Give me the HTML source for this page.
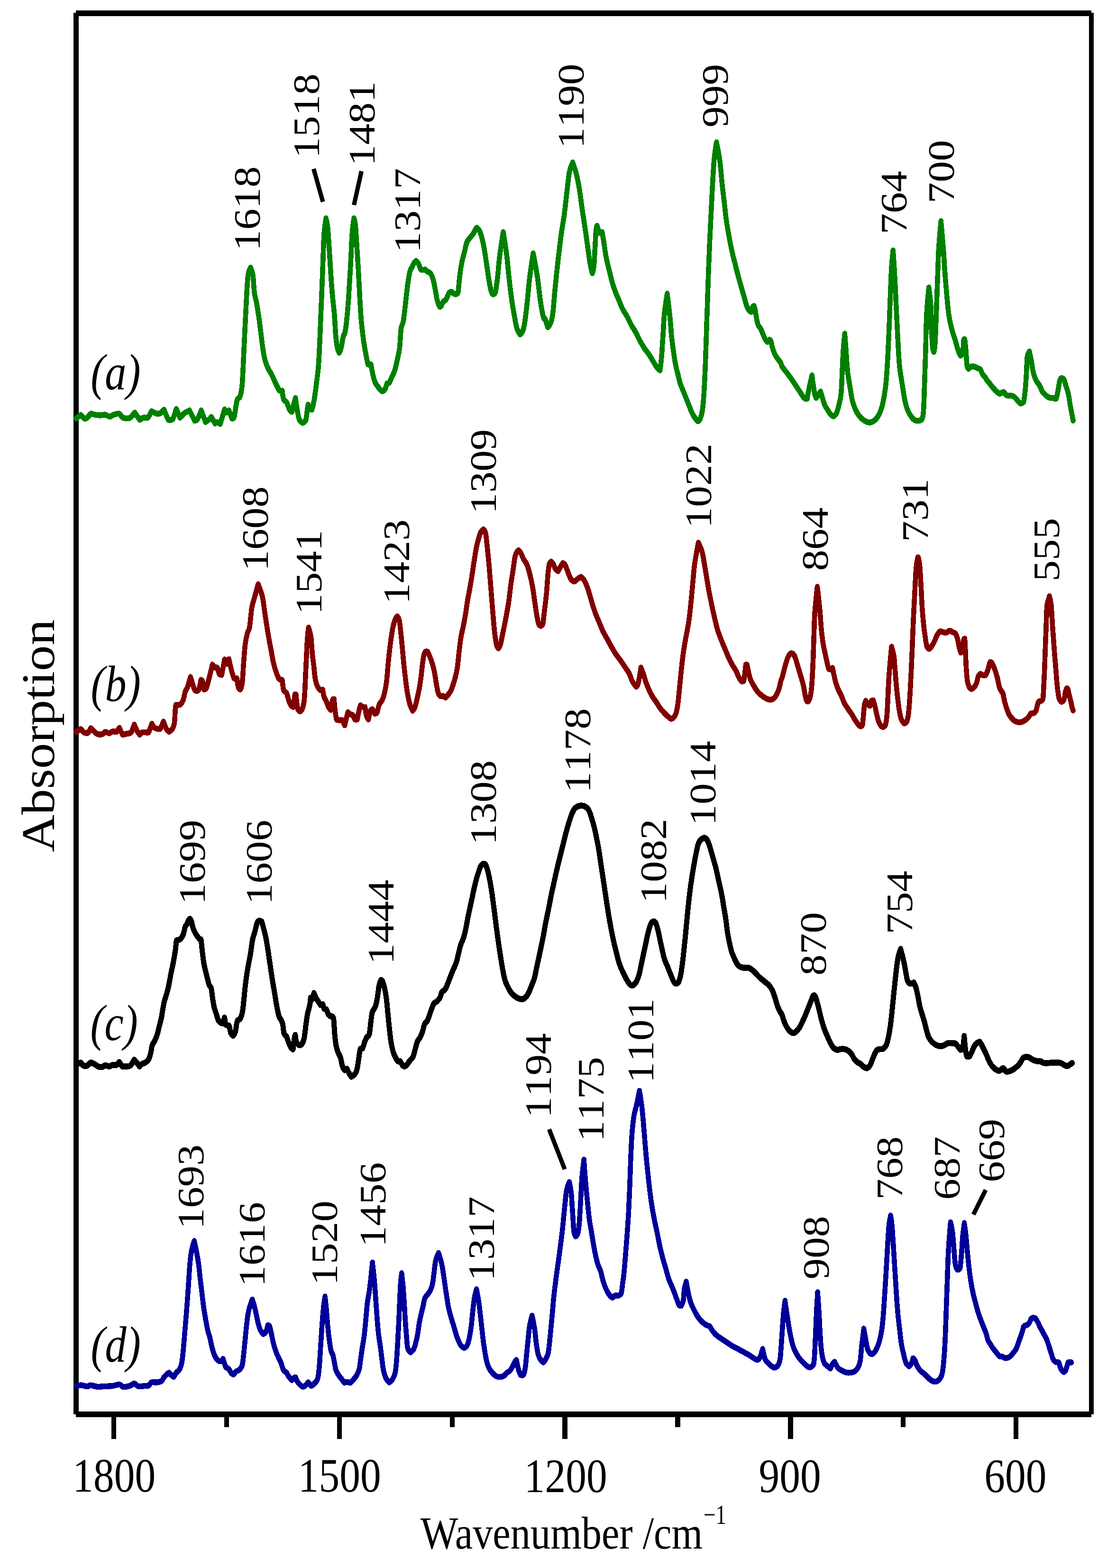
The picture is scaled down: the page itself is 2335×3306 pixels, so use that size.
<!DOCTYPE html>
<html lang="en"><head><meta charset="utf-8"><title>IR absorption spectra</title>
<style>html,body{margin:0;padding:0;background:#fff}body{width:2335px;height:3306px;overflow:hidden}svg{display:block}text{font-family:"Liberation Serif","Times New Roman",serif;fill:#000;font-kerning:none;text-rendering:geometricPrecision}.k{font-kerning:auto}.i{font-style:italic}.c{fill:none;stroke-linejoin:round;stroke-linecap:round}</style></head><body>
<svg width="2335" height="3306" viewBox="0 0 2335 3306">
<rect width="2335" height="3306" fill="#fff"/>
<g fill="#000" shape-rendering="crispEdges">
<rect x="155" y="27" width="11" height="2955"/>
<rect x="2297" y="27" width="10" height="2955"/>
<rect x="160" y="22" width="2142" height="12"/>
<rect x="160" y="2976" width="2142" height="12"/>
<rect x="234.9" y="2982" width="10.4" height="51.8"/>
<rect x="472.8" y="2982" width="10.4" height="26.8"/>
<rect x="710.6" y="2982" width="10.4" height="51.8"/>
<rect x="948.5" y="2982" width="10.4" height="26.8"/>
<rect x="1186.3" y="2982" width="10.4" height="51.8"/>
<rect x="1424.2" y="2982" width="10.4" height="26.8"/>
<rect x="1662.1" y="2982" width="10.4" height="51.8"/>
<rect x="1899.9" y="2982" width="10.4" height="26.8"/>
<rect x="2137.8" y="2982" width="10.4" height="51.8"/>
</g>
<g transform="scale(1 1.17)" shape-rendering="crispEdges">
<path class="c" d="M160.8 754.1C162.3 753.0 169.8 747.5 170.0 747.5C170.3 747.5 176.3 753.5 177.7 754.1C179.2 754.6 181.6 754.1 183.9 752.7C186.2 751.3 190.0 746.1 191.6 745.6C193.2 745.1 197.5 747.0 200.9 747.5C204.2 747.9 208.1 748.3 211.7 748.3C215.2 748.3 219.1 747.0 222.4 747.5C225.8 747.9 229.4 750.9 231.7 750.9C233.9 750.9 236.1 748.3 239.4 747.5C242.7 746.6 249.6 745.1 251.7 745.6C253.9 746.2 256.3 751.6 259.4 752.7C262.6 753.9 270.0 754.5 273.3 753.3C276.6 752.0 284.1 743.5 284.1 743.5C284.1 743.5 294.7 756.6 294.9 756.7C295.0 756.8 299.8 753.4 302.6 752.7C305.4 752.1 310.4 753.7 311.8 752.7C313.3 751.7 319.5 740.9 319.5 740.9C319.6 740.9 327.3 744.7 330.3 745.4C333.4 746.0 335.6 746.0 338.0 744.8C340.5 743.7 345.7 738.2 345.7 738.2C345.7 738.2 354.4 756.1 355.0 756.7C355.6 757.2 363.0 756.9 364.3 755.4C365.6 753.9 371.9 736.9 371.9 736.9C371.9 736.9 379.7 752.7 379.7 752.7C379.7 752.7 385.6 747.0 388.9 744.8C392.2 742.6 399.7 739.6 399.7 739.6C399.7 739.6 410.5 758.0 410.5 758.0C410.5 758.0 414.7 758.0 416.7 755.4C418.7 752.7 424.4 739.6 424.4 739.6C424.4 739.6 433.6 760.6 433.6 760.6C433.6 760.6 437.7 758.2 439.8 756.7C441.8 755.2 445.9 751.4 445.9 751.4C445.9 751.4 453.6 763.3 453.6 763.3C453.6 763.3 457.4 760.6 458.3 760.6C459.1 760.7 464.5 764.1 464.5 764.1C464.5 764.1 473.8 737.7 473.8 737.7C473.8 737.7 478.3 743.5 478.3 743.5C478.3 743.5 482.9 739.6 482.9 739.6C482.9 739.6 489.0 754.1 489.0 754.1C489.0 754.1 492.8 755.0 494.0 751.4C495.2 747.8 498.1 727.3 500.2 721.1C502.2 715.0 504.5 719.6 506.3 714.5C508.1 709.5 509.4 707.9 511.0 690.8C512.5 673.7 514.0 638.1 515.6 611.8C517.1 585.4 518.9 552.1 520.2 532.7C521.5 513.4 521.9 504.3 523.3 495.9C524.7 487.4 528.5 482.2 528.5 482.2C528.5 482.2 532.1 488.3 533.5 495.9C534.8 503.4 535.3 519.1 536.6 527.5C537.9 535.8 539.4 537.1 541.2 545.9C543.0 554.7 545.3 567.4 547.4 580.2C549.4 592.9 551.7 611.3 553.5 622.3C555.3 633.3 556.3 639.4 558.1 646.0C560.0 652.6 561.8 656.8 564.4 661.8C567.0 666.9 570.9 671.5 573.7 676.3C576.5 681.2 578.8 686.2 581.4 690.8C584.0 695.4 588.2 703.0 589.3 704.0C590.3 705.0 595.3 704.0 595.3 704.0C595.3 704.0 596.9 716.6 598.3 719.8C599.7 723.0 602.5 722.0 604.6 725.1C606.6 728.1 608.9 735.4 610.7 738.2C612.6 741.1 615.6 742.2 615.6 742.2C615.6 742.2 623.2 717.2 623.2 717.2C623.2 717.2 628.0 746.6 630.6 754.1C633.2 761.5 638.6 762.0 638.6 762.0C638.6 762.0 643.6 760.9 645.1 756.7C646.6 752.5 648.2 737.6 649.1 733.0C649.9 728.4 650.0 729.2 650.0 729.2C650.0 729.2 651.7 732.9 653.0 734.5C654.3 736.0 657.8 738.4 657.8 738.4C657.8 738.4 661.1 729.0 662.6 721.3C664.2 713.6 665.7 702.8 667.3 692.3C668.8 681.8 670.6 672.5 671.9 658.0C673.2 643.6 673.9 624.7 675.0 605.4C676.0 586.0 677.0 564.1 678.0 542.1C679.1 520.2 680.2 493.8 681.1 473.6C682.1 453.4 682.5 434.3 683.6 420.9C684.7 407.5 687.7 393.3 687.7 393.3C687.7 393.3 690.2 401.4 691.3 410.4C692.4 419.4 693.4 434.1 694.4 447.3C695.4 460.4 696.5 476.3 697.5 489.4C698.5 502.6 699.3 513.6 700.6 526.3C701.8 539.0 703.9 552.7 705.2 565.8C706.5 579.0 707.2 595.3 708.3 605.4C709.3 615.5 710.2 621.4 711.4 626.4C712.5 631.5 715.4 635.7 715.4 635.7C715.4 635.7 718.2 631.5 719.7 626.4C721.1 621.4 723.0 609.7 724.3 605.4C725.6 601.0 726.2 604.5 727.4 600.1C728.5 595.7 729.8 589.1 731.1 579.0C732.3 568.9 733.6 557.0 735.1 539.5C736.5 521.9 738.4 493.4 739.7 473.6C741.0 453.9 741.6 434.3 742.8 420.9C743.9 407.5 746.6 393.3 746.6 393.3C746.6 393.3 748.8 398.7 749.9 407.7C750.9 416.8 751.9 433.7 753.0 447.3C754.0 460.9 755.0 474.1 756.1 489.4C757.1 504.8 758.1 524.6 759.1 539.5C760.2 554.4 760.9 566.7 762.2 579.0C763.5 591.3 765.3 603.6 766.8 613.3C768.4 622.9 769.9 629.7 771.5 637.0C773.0 644.2 776.1 656.5 776.2 656.7C776.4 657.0 782.3 656.5 782.4 656.7C782.5 656.9 785.3 671.0 786.9 676.5C788.4 682.0 789.8 686.1 791.6 689.7C793.4 693.2 796.1 695.4 797.9 697.6C799.7 699.8 801.0 701.6 802.6 702.8C804.1 704.1 806.5 705.0 807.2 704.9C807.9 704.8 810.4 703.8 812.0 701.5C813.5 699.2 815.5 692.3 816.5 691.0C817.5 689.7 820.0 691.0 821.1 689.7C822.3 688.4 824.1 684.0 825.9 680.4C827.7 676.9 830.1 674.1 832.2 668.6C834.2 663.1 836.5 654.5 838.3 647.5C840.1 640.5 841.7 635.7 843.0 626.4C844.2 617.2 844.8 600.1 846.0 592.2C847.3 584.3 849.1 586.5 850.7 579.0C852.2 571.5 853.8 558.4 855.3 547.4C856.8 536.4 858.4 522.8 859.9 513.1C861.5 503.5 863.0 494.7 864.5 489.4C866.1 484.2 867.5 484.2 869.0 481.5C870.5 478.9 872.2 475.5 873.6 473.6C875.0 471.7 877.5 470.2 877.5 470.2C877.5 470.2 881.0 472.4 882.6 474.9C884.3 477.5 886.5 484.6 887.3 485.5C888.2 486.4 892.0 486.3 893.5 486.3C895.1 486.3 895.9 485.2 896.6 485.5C897.3 485.8 899.4 488.3 901.2 489.4C903.0 490.5 905.5 490.0 907.4 492.1C909.3 494.1 911.5 497.8 913.3 502.6C915.0 507.4 916.3 514.5 917.9 521.0C919.4 527.6 920.9 536.8 922.5 542.1C924.1 547.4 927.4 552.7 927.4 552.7C927.4 552.7 929.3 552.8 930.6 551.3C931.8 549.9 933.7 545.2 935.2 543.4C936.7 541.7 938.3 542.6 939.8 540.8C941.4 539.0 943.3 535.1 944.5 532.9C945.8 530.7 946.3 528.7 947.5 527.6C948.6 526.5 951.3 525.7 952.1 525.8C952.9 525.9 955.2 528.2 956.7 528.9C958.3 529.7 960.4 530.5 961.3 530.3C962.2 530.0 965.2 530.3 966.3 526.3C967.3 522.3 968.1 508.7 969.4 500.0C970.6 491.2 972.2 481.5 974.0 473.6C975.8 465.7 978.4 458.7 980.1 452.5C981.9 446.4 982.7 440.9 984.7 436.7C986.7 432.6 989.9 430.1 992.2 427.5C994.5 424.9 996.6 423.3 998.4 420.9C1000.2 418.5 1001.8 414.8 1003.0 413.0C1004.3 411.3 1006.0 410.4 1006.0 410.4C1006.0 410.4 1010.0 413.0 1012.0 417.0C1014.0 420.9 1016.3 427.7 1018.1 434.1C1019.9 440.5 1021.2 447.3 1022.7 455.2C1024.2 463.1 1025.8 472.7 1027.3 481.5C1028.9 490.3 1030.4 500.4 1031.9 507.9C1033.5 515.3 1035.2 522.6 1036.6 526.3C1037.9 530.0 1040.0 530.3 1040.0 530.3C1040.0 530.3 1043.5 530.7 1044.9 526.3C1046.2 522.0 1048.0 510.9 1049.5 500.0C1051.0 489.0 1052.1 474.1 1054.1 460.4C1056.1 446.8 1061.5 418.3 1061.5 418.3C1061.5 418.3 1066.9 446.8 1068.9 460.4C1070.9 474.1 1071.8 486.4 1073.6 500.0C1075.4 513.6 1077.7 529.8 1079.7 542.1C1081.8 554.4 1084.1 565.4 1085.9 573.7C1087.7 582.1 1088.7 587.3 1090.5 592.2C1092.4 597.0 1097.0 602.7 1097.0 602.7C1097.0 602.7 1101.6 599.6 1103.4 594.8C1105.3 590.0 1106.5 583.0 1108.1 573.7C1109.6 564.5 1111.2 551.8 1112.7 539.5C1114.2 527.2 1115.3 513.8 1117.3 500.0C1119.3 486.1 1124.7 456.5 1124.7 456.5C1124.7 456.5 1131.2 485.7 1133.7 500.0C1136.2 514.2 1137.8 530.3 1139.8 542.1C1141.9 554.0 1144.3 565.6 1146.0 571.1C1147.7 576.6 1148.2 572.2 1149.8 575.3C1151.4 578.4 1155.5 589.8 1155.5 589.8C1155.5 589.8 1159.3 586.9 1161.0 583.2C1162.7 579.4 1164.2 577.0 1165.7 567.4C1167.3 557.7 1168.8 538.8 1170.3 525.2C1171.9 511.6 1173.4 498.0 1175.0 485.7C1176.5 473.4 1178.0 462.4 1179.6 451.4C1181.1 440.5 1182.4 430.8 1184.2 419.8C1186.0 408.8 1188.3 398.7 1190.4 385.6C1192.4 372.4 1194.7 353.5 1196.5 340.8C1198.3 328.0 1199.3 317.2 1201.2 309.2C1203.1 301.2 1208.0 292.8 1208.0 292.8C1208.0 292.8 1213.6 306.4 1216.0 314.4C1218.3 322.4 1220.3 331.6 1222.1 340.8C1223.9 350.0 1225.2 360.5 1226.8 369.8C1228.3 379.0 1229.8 387.3 1231.4 396.1C1232.9 404.9 1234.5 413.2 1236.0 422.5C1237.6 431.7 1239.1 442.2 1240.6 451.4C1242.2 460.7 1243.8 471.0 1245.3 477.8C1246.7 484.6 1249.3 492.3 1249.3 492.3C1249.3 492.3 1251.7 488.1 1252.6 480.4C1253.6 472.7 1254.3 457.2 1255.1 446.2C1255.9 435.2 1256.5 421.1 1257.3 414.6C1258.0 408.0 1259.4 406.7 1259.4 406.7C1259.4 406.7 1261.3 412.4 1262.3 414.6C1263.3 416.8 1265.4 419.7 1265.6 419.8C1265.8 419.9 1270.1 418.5 1270.1 418.5C1270.1 418.5 1271.7 426.2 1273.0 433.0C1274.3 439.8 1276.1 451.9 1277.6 459.3C1279.2 466.8 1280.7 472.1 1282.3 477.8C1283.8 483.5 1285.3 488.3 1286.9 493.6C1288.4 498.9 1289.7 504.1 1291.5 509.4C1293.3 514.7 1295.4 519.9 1297.7 525.2C1300.0 530.5 1302.9 535.8 1305.5 541.0C1308.0 546.3 1310.4 552.0 1313.2 556.8C1316.1 561.7 1319.4 565.2 1322.5 570.0C1325.6 574.8 1328.7 581.0 1331.7 585.8C1334.8 590.6 1337.9 594.2 1341.0 599.0C1344.1 603.8 1347.2 610.0 1350.2 614.8C1353.3 619.6 1356.5 624.0 1359.5 628.0C1362.6 631.9 1365.7 634.6 1368.8 638.5C1371.9 642.5 1375.2 647.7 1378.0 651.7C1380.8 655.6 1383.4 659.6 1385.8 662.2C1388.1 664.9 1392.2 667.5 1392.2 667.5C1392.2 667.5 1394.3 654.3 1395.4 643.8C1396.4 633.2 1397.4 617.4 1398.5 604.3C1399.5 591.1 1400.0 577.2 1401.5 564.7C1403.0 552.2 1407.4 529.2 1407.4 529.2C1407.4 529.2 1411.8 560.1 1413.3 572.6C1414.8 585.2 1415.1 593.7 1416.3 604.3C1417.6 614.8 1419.4 626.7 1421.0 635.9C1422.5 645.1 1424.1 653.0 1425.6 659.6C1427.1 666.2 1428.7 670.1 1430.2 675.4C1431.8 680.7 1433.0 686.4 1434.8 691.2C1436.7 696.0 1439.0 700.0 1441.1 704.4C1443.1 708.8 1445.2 713.2 1447.2 717.5C1449.3 721.9 1451.3 726.3 1453.4 730.7C1455.5 735.1 1457.6 740.2 1459.6 743.9C1461.7 747.6 1463.8 750.6 1465.9 753.1C1468.0 755.7 1472.1 759.2 1472.1 759.2C1472.1 759.2 1475.4 757.9 1477.0 754.4C1478.6 751.0 1480.4 746.1 1481.7 738.6C1483.0 731.2 1483.7 723.3 1484.8 709.6C1485.8 696.0 1486.8 678.9 1487.8 656.9C1488.9 635.0 1489.9 604.3 1490.9 577.9C1492.0 551.6 1493.0 523.0 1494.0 498.9C1495.0 474.7 1496.1 452.8 1497.1 433.0C1498.1 413.2 1499.1 397.9 1500.2 380.3C1501.2 362.7 1502.2 343.0 1503.3 327.6C1504.3 312.2 1505.0 299.9 1506.3 288.1C1507.7 276.2 1511.3 256.5 1511.3 256.5C1511.3 256.5 1516.2 276.2 1518.1 288.1C1520.0 299.9 1521.2 315.3 1522.7 327.6C1524.2 339.9 1525.8 350.4 1527.3 361.9C1528.9 373.3 1530.1 385.1 1531.9 396.1C1533.7 407.1 1536.1 418.1 1538.1 427.7C1540.2 437.4 1542.2 446.2 1544.3 454.1C1546.3 462.0 1548.4 468.1 1550.4 475.2C1552.5 482.2 1554.5 489.6 1556.6 496.2C1558.7 502.8 1560.7 508.5 1562.8 514.7C1564.8 520.8 1566.9 527.0 1568.9 533.1C1571.0 539.3 1573.3 547.2 1575.1 551.6C1577.0 556.0 1578.4 557.7 1580.0 559.5C1581.6 561.2 1584.6 562.1 1584.6 562.1C1584.6 562.1 1587.1 554.2 1587.9 552.9C1588.7 551.5 1590.7 551.6 1590.7 551.6C1590.7 551.6 1592.6 557.7 1593.6 562.1C1594.6 566.5 1595.6 573.7 1596.7 577.9C1597.7 582.1 1598.6 584.7 1599.9 587.1C1601.2 589.5 1603.0 590.0 1604.6 592.4C1606.1 594.8 1607.6 598.5 1609.1 601.6C1610.7 604.7 1612.2 608.4 1613.8 610.8C1615.4 613.3 1618.6 616.1 1618.6 616.1C1618.6 616.1 1623.2 612.2 1623.2 612.2C1623.2 612.2 1625.1 612.6 1626.0 614.8C1627.0 617.0 1627.8 621.6 1629.0 625.3C1630.3 629.1 1631.9 633.7 1633.8 637.2C1635.6 640.7 1638.0 643.8 1640.1 646.4C1642.1 649.0 1644.6 650.6 1646.2 653.0C1647.8 655.4 1647.7 657.6 1649.9 660.7C1652.1 663.7 1656.1 667.7 1659.2 671.2C1662.3 674.7 1665.4 678.0 1668.4 681.8C1671.5 685.5 1674.6 689.7 1677.7 693.6C1680.7 697.6 1683.8 701.5 1686.9 705.5C1690.0 709.4 1693.9 715.4 1696.2 717.3C1698.6 719.3 1702.5 718.6 1702.5 718.6C1702.5 718.6 1704.1 709.9 1705.8 702.8C1707.5 695.8 1712.6 676.5 1712.6 676.5C1712.6 676.5 1716.6 701.3 1718.1 708.1C1719.6 714.9 1721.5 717.3 1721.5 717.3C1721.5 717.3 1724.1 714.0 1725.6 712.1C1727.1 710.1 1730.8 705.5 1730.8 705.5C1730.8 705.5 1733.1 712.1 1734.5 716.0C1735.9 720.0 1737.3 725.5 1739.2 729.2C1741.0 732.9 1743.4 735.6 1745.5 738.4C1747.6 741.3 1749.6 744.3 1751.7 746.3C1753.8 748.3 1757.5 750.3 1757.9 750.3C1758.2 750.2 1762.4 748.1 1764.2 745.0C1766.1 741.9 1767.4 737.5 1769.0 731.8C1770.6 726.1 1772.7 720.8 1774.0 710.7C1775.2 700.6 1775.7 684.4 1776.4 671.2C1777.2 658.0 1777.7 643.3 1778.6 631.7C1779.5 620.1 1781.9 601.4 1781.9 601.4C1781.9 601.4 1784.0 625.3 1785.0 637.0C1786.0 648.6 1786.7 661.1 1788.1 671.2C1789.4 681.3 1791.4 689.2 1793.0 697.6C1794.6 705.9 1795.9 714.7 1797.7 721.3C1799.5 727.9 1801.6 732.5 1803.9 737.1C1806.3 741.7 1808.9 745.7 1811.8 748.9C1814.6 752.2 1818.0 754.9 1821.1 756.8C1824.2 758.8 1827.5 760.1 1830.3 760.8C1833.2 761.5 1835.2 761.7 1838.0 760.8C1840.9 759.9 1844.4 758.2 1847.3 755.5C1850.2 752.9 1852.8 749.4 1855.2 745.0C1857.5 740.6 1859.3 737.1 1861.5 729.2C1863.6 721.3 1866.2 709.4 1867.9 697.6C1869.6 685.7 1870.5 673.4 1871.6 658.0C1872.7 642.7 1873.6 625.1 1874.7 605.4C1875.7 585.6 1876.8 559.2 1877.7 539.5C1878.7 519.7 1879.2 501.5 1880.2 486.8C1881.2 472.1 1883.7 451.2 1883.7 451.2C1883.7 451.2 1885.6 472.5 1886.7 489.4C1887.9 506.3 1889.3 533.3 1890.4 552.7C1891.6 572.0 1892.4 587.8 1893.5 605.4C1894.6 622.9 1895.5 642.7 1897.2 658.0C1899.0 673.4 1902.1 687.0 1904.0 697.6C1905.9 708.1 1906.8 714.3 1908.6 721.3C1910.4 728.3 1912.5 734.7 1914.9 739.7C1917.2 744.8 1920.1 748.6 1922.8 751.6C1925.4 754.6 1927.9 756.5 1930.5 757.6C1933.1 758.7 1935.9 758.5 1938.2 758.2C1940.6 757.8 1943.6 757.1 1944.5 755.5C1945.5 754.0 1946.9 752.0 1947.8 742.4C1948.7 732.7 1949.2 716.0 1949.9 697.6C1950.7 679.1 1951.6 653.7 1952.4 631.7C1953.2 609.7 1953.4 584.8 1954.6 565.8C1955.7 546.9 1959.2 517.9 1959.2 517.9C1959.2 517.9 1962.6 540.3 1963.5 552.7C1964.4 565.0 1964.1 579.9 1964.7 592.2C1965.4 604.5 1966.4 619.4 1967.2 626.4C1968.1 633.5 1969.8 634.3 1969.8 634.3C1969.8 634.3 1971.6 629.9 1972.4 618.5C1973.3 607.1 1974.0 585.6 1974.9 565.8C1975.8 546.1 1976.8 519.7 1977.7 500.0C1978.5 480.2 1979.0 464.2 1980.1 447.3C1981.3 430.4 1984.8 398.5 1984.8 398.5C1984.8 398.5 1988.4 432.6 1989.7 447.3C1991.0 462.0 1991.7 473.6 1992.8 486.8C1993.9 500.0 1995.1 513.1 1996.5 526.3C1997.9 539.5 1999.3 554.9 2001.1 565.8C2002.9 576.8 2005.0 584.3 2007.3 592.2C2009.6 600.1 2012.7 606.7 2015.0 613.3C2017.3 619.8 2019.3 627.1 2021.2 631.7C2023.0 636.3 2026.1 640.9 2026.1 640.9C2026.1 640.9 2029.9 638.9 2031.0 634.3C2032.1 629.7 2032.0 616.2 2032.5 613.3C2033.1 610.3 2035.0 611.1 2035.0 611.1C2035.0 611.1 2036.7 623.9 2037.5 631.7C2038.3 639.5 2038.7 652.6 2039.7 658.0C2040.6 663.5 2043.0 664.6 2043.0 664.6C2043.0 664.6 2047.1 661.3 2049.2 660.7C2051.3 660.0 2053.3 660.2 2055.4 660.7C2057.4 661.1 2059.5 662.5 2061.5 663.3C2063.6 664.1 2066.2 664.0 2067.7 665.4C2069.2 666.9 2070.4 671.4 2072.2 673.9C2074.0 676.4 2076.6 678.2 2078.4 680.4C2080.2 682.6 2082.0 685.8 2083.1 687.0C2084.1 688.3 2083.6 686.7 2085.0 688.0C2086.3 689.4 2089.1 693.1 2091.1 695.3C2093.2 697.5 2095.3 699.3 2097.3 701.2C2099.4 703.1 2101.6 705.0 2103.5 706.5C2105.4 707.9 2108.2 709.7 2108.9 709.8C2109.6 709.9 2111.5 708.3 2112.7 707.8C2114.0 707.2 2116.1 706.4 2116.6 706.5C2117.1 706.6 2118.5 708.1 2119.7 709.1C2120.8 710.1 2122.1 711.7 2123.5 712.4C2124.9 713.1 2126.5 712.9 2128.2 713.1C2129.8 713.2 2131.8 712.7 2133.6 713.1C2135.3 713.4 2137.3 714.0 2138.9 715.0C2140.6 716.0 2142.0 717.6 2143.6 719.0C2145.1 720.4 2146.8 722.3 2148.2 723.6C2149.6 724.9 2151.2 726.6 2152.0 726.9C2152.9 727.2 2154.7 726.8 2155.9 726.2C2157.1 725.7 2158.5 725.8 2159.3 723.6C2160.1 721.4 2161.0 714.8 2161.6 710.4C2162.2 706.0 2162.6 702.7 2163.1 697.3C2163.6 691.8 2164.2 684.1 2164.7 677.5C2165.1 670.9 2165.4 663.7 2165.8 657.7C2166.1 651.8 2166.1 646.0 2167.0 641.9C2167.9 637.9 2171.3 633.4 2171.3 633.4C2171.3 633.4 2174.5 646.0 2175.6 651.1C2176.7 656.3 2177.2 660.6 2177.9 664.3C2178.7 668.0 2179.4 670.7 2180.3 673.5C2181.2 676.4 2182.3 679.1 2183.4 681.4C2184.5 683.7 2185.3 685.5 2186.6 687.4C2187.9 689.2 2189.9 690.8 2191.3 692.6C2192.7 694.5 2193.9 696.5 2195.0 698.6C2196.2 700.7 2197.0 703.4 2198.2 705.2C2199.4 706.9 2200.7 707.8 2202.1 709.1C2203.6 710.4 2205.2 712.0 2206.8 713.1C2208.3 714.2 2209.8 715.0 2211.4 715.7C2212.9 716.4 2214.5 716.8 2216.0 717.0C2217.6 717.2 2219.2 716.8 2220.6 717.0C2222.0 717.2 2223.3 718.1 2224.5 718.3C2225.7 718.5 2227.5 718.6 2227.7 718.3C2227.8 718.1 2229.4 713.5 2230.2 710.4C2231.0 707.4 2231.7 703.6 2232.5 699.9C2233.3 696.2 2234.1 690.9 2234.8 688.0C2235.5 685.2 2236.2 683.8 2236.9 682.8C2237.6 681.7 2238.4 681.5 2239.1 681.4C2239.9 681.4 2241.3 681.5 2242.2 682.1C2243.2 682.7 2244.1 683.3 2245.1 685.4C2246.1 687.5 2247.1 691.8 2248.1 694.6C2249.1 697.5 2250.1 699.4 2251.2 702.5C2252.2 705.6 2253.3 709.1 2254.2 713.1C2255.1 717.0 2255.8 722.3 2256.6 726.2C2257.3 730.2 2258.1 733.3 2258.9 736.8C2259.6 740.3 2260.4 743.8 2261.2 747.3C2261.9 750.8 2263.1 756.1 2263.5 757.8" stroke="#008000" stroke-width="10.6"/>
<path class="c" d="M160.8 1318.8C162.3 1318.0 169.4 1313.5 170.0 1313.6C170.7 1313.6 175.3 1319.0 177.7 1320.1C180.2 1321.3 184.3 1321.3 185.5 1320.7C186.6 1320.0 191.6 1312.2 191.6 1312.2C191.6 1312.2 196.8 1317.0 199.3 1318.8C201.9 1320.7 204.2 1322.7 207.0 1323.3C209.9 1324.0 213.7 1323.5 216.3 1322.8C218.8 1322.0 221.0 1319.0 222.4 1318.8C223.9 1318.7 228.0 1321.6 230.1 1321.5C232.3 1321.4 235.3 1318.5 237.9 1318.0C240.4 1317.6 244.3 1319.4 245.6 1318.8C246.8 1318.2 251.7 1311.7 251.7 1311.7C251.7 1311.7 258.1 1323.8 258.5 1324.1C258.9 1324.4 264.2 1322.9 267.1 1322.3C270.1 1321.6 274.8 1321.9 276.4 1320.1C278.1 1318.4 283.2 1305.7 283.2 1305.7C283.2 1305.7 286.6 1313.1 288.6 1316.2C290.5 1319.3 294.9 1324.1 294.9 1324.1C294.9 1324.1 298.2 1320.2 301.0 1319.6C303.9 1319.0 312.6 1320.8 313.4 1320.1C314.1 1319.5 320.2 1304.3 320.2 1304.3C320.2 1304.3 324.7 1310.9 327.3 1312.2C329.8 1313.6 337.4 1314.0 338.0 1313.6C338.7 1313.1 344.8 1300.4 344.8 1300.4C344.8 1300.4 348.9 1310.5 350.9 1313.6C352.8 1316.6 356.5 1318.8 356.5 1318.8C356.6 1318.8 360.9 1316.8 362.8 1314.4C364.6 1311.9 366.5 1310.4 367.6 1304.3C368.8 1298.3 369.2 1283.7 369.8 1278.0C370.4 1272.3 371.3 1270.1 371.3 1270.1C371.4 1270.1 378.1 1270.9 379.7 1270.1C381.2 1269.2 384.2 1266.1 386.1 1262.2C387.9 1258.2 389.2 1250.3 390.7 1246.4C392.3 1242.4 393.5 1242.9 395.4 1238.5C397.2 1234.1 401.8 1220.0 401.8 1220.0C401.8 1220.0 408.4 1239.0 410.3 1242.4C412.2 1245.8 415.3 1245.1 415.7 1245.1C416.1 1245.0 418.7 1244.4 420.0 1241.1C421.4 1237.8 423.9 1225.3 423.9 1225.3C423.9 1225.3 426.1 1225.3 427.1 1227.9C428.1 1230.6 430.4 1242.4 430.4 1242.4C430.4 1242.4 434.0 1242.1 435.3 1239.8C436.6 1237.5 438.5 1230.3 440.1 1225.3C441.6 1220.2 443.4 1214.1 444.7 1209.5C446.0 1204.9 448.1 1197.6 448.1 1197.6C448.1 1197.6 452.3 1202.2 453.6 1202.9C455.0 1203.6 457.8 1202.4 458.2 1202.9C458.6 1203.4 461.9 1213.5 462.8 1214.8C463.7 1216.0 467.7 1216.1 467.7 1216.1C467.7 1216.1 469.9 1206.2 470.9 1201.6C471.9 1197.0 473.7 1188.4 473.7 1188.4C473.7 1188.4 478.3 1196.3 478.3 1196.3C478.3 1196.3 482.9 1187.9 482.9 1187.9C482.9 1187.9 484.7 1195.4 485.7 1199.0C486.7 1202.6 487.5 1205.5 488.8 1209.5C490.1 1213.4 493.2 1222.2 493.6 1222.7C494.1 1223.2 499.7 1222.6 499.7 1222.7C499.7 1222.7 501.5 1235.3 502.7 1238.5C503.8 1241.6 507.0 1242.4 507.0 1242.4C507.0 1242.4 509.8 1238.7 511.0 1230.6C512.1 1222.4 513.0 1205.1 514.0 1193.7C515.1 1182.3 515.8 1170.8 517.1 1162.1C518.4 1153.3 520.2 1146.3 521.8 1141.0C523.3 1135.7 524.8 1137.9 526.4 1130.4C527.9 1123.0 529.5 1104.5 531.0 1096.2C532.5 1087.9 533.4 1087.6 535.6 1080.4C537.9 1073.1 544.6 1052.7 544.6 1052.7C544.6 1052.7 551.3 1067.0 553.5 1075.1C555.8 1083.2 556.6 1092.7 558.1 1101.5C559.7 1110.3 561.2 1119.5 562.8 1127.8C564.3 1136.2 565.9 1144.1 567.4 1151.5C568.9 1159.0 570.5 1165.6 572.0 1172.6C573.6 1179.6 574.8 1187.1 576.6 1193.7C578.4 1200.3 580.7 1207.1 582.8 1212.1C584.9 1217.2 587.8 1222.5 589.2 1224.0C590.6 1225.5 594.8 1224.4 595.2 1225.3C595.6 1226.2 596.9 1240.3 598.2 1243.7C599.6 1247.2 602.7 1245.9 604.5 1249.0C606.3 1252.1 607.5 1258.5 609.0 1262.2C610.6 1265.9 612.2 1269.4 613.9 1271.4C615.5 1273.4 618.9 1274.0 618.9 1274.0C618.9 1274.0 621.9 1251.6 621.9 1251.6C621.9 1251.6 624.4 1251.6 624.4 1251.6C624.4 1251.6 626.2 1270.3 627.5 1275.4C628.8 1280.4 632.4 1281.9 632.4 1281.9C632.4 1281.9 635.8 1281.6 637.3 1278.0C638.9 1274.4 640.7 1271.4 642.0 1259.6C643.3 1247.7 644.0 1224.4 645.1 1206.9C646.1 1189.3 647.2 1166.8 648.1 1154.2C649.1 1141.5 650.9 1130.9 650.9 1130.9C650.9 1130.9 654.5 1139.7 655.9 1147.7C657.2 1155.8 657.9 1170.6 658.9 1179.4C660.0 1188.1 661.0 1193.0 662.0 1200.4C663.1 1207.9 663.8 1218.0 665.1 1224.1C666.4 1230.3 668.0 1234.0 669.9 1237.3C671.7 1240.6 675.5 1243.6 676.2 1243.9C676.9 1244.2 680.7 1242.6 680.7 1242.6C680.7 1242.6 682.3 1252.2 683.6 1255.8C684.9 1259.3 686.8 1260.6 688.3 1263.7C689.9 1266.7 691.4 1271.6 693.0 1274.2C694.6 1276.8 697.9 1279.5 697.9 1279.5C697.9 1279.5 700.2 1265.2 701.2 1262.3C702.1 1259.5 704.6 1259.7 704.6 1259.7C704.6 1259.7 705.8 1273.3 706.7 1279.5C707.6 1285.6 709.5 1295.8 709.9 1296.6C710.3 1297.4 714.2 1297.7 716.3 1297.9C718.4 1298.1 721.8 1297.3 722.4 1297.9C723.1 1298.5 727.1 1307.1 727.1 1307.1C727.1 1307.1 729.9 1296.6 731.1 1292.6C732.2 1288.7 733.8 1283.4 733.8 1283.4C733.8 1283.4 737.7 1286.5 739.4 1287.4C741.1 1288.3 742.7 1287.4 744.0 1288.7C745.2 1289.9 747.9 1296.0 748.6 1296.6C749.4 1297.2 753.4 1296.8 753.5 1296.6C753.6 1296.4 756.4 1283.7 757.6 1279.5C758.7 1275.2 760.4 1271.0 760.4 1271.0C760.4 1271.0 764.0 1273.7 765.6 1274.2C767.2 1274.7 770.0 1274.2 770.0 1274.2C770.0 1274.2 771.8 1286.3 773.0 1290.0C774.2 1293.7 777.1 1296.6 777.1 1296.6C777.1 1296.6 780.1 1283.2 781.2 1280.8C782.4 1278.3 785.6 1278.2 785.6 1278.2C785.6 1278.2 790.1 1285.9 790.3 1286.1C790.4 1286.2 794.3 1285.7 795.0 1284.7C795.7 1283.7 797.2 1277.1 798.3 1274.2C799.3 1271.3 799.9 1269.6 801.2 1267.6C802.4 1265.6 804.3 1265.2 805.8 1262.3C807.4 1259.5 809.0 1256.0 810.6 1250.5C812.2 1245.0 813.9 1237.8 815.2 1229.4C816.5 1221.1 817.3 1209.6 818.3 1200.4C819.3 1191.2 820.2 1182.9 821.4 1174.1C822.6 1165.3 824.1 1155.2 825.4 1147.7C826.7 1140.3 827.7 1134.6 829.1 1129.3C830.5 1124.0 832.1 1119.2 833.6 1116.1C835.1 1113.0 838.0 1110.8 838.0 1110.8C838.0 1110.8 841.1 1113.9 842.4 1118.8C843.6 1123.6 844.4 1131.9 845.4 1139.8C846.5 1147.7 847.5 1157.0 848.5 1166.2C849.6 1175.4 850.6 1186.4 851.6 1195.2C852.6 1203.9 853.7 1211.4 854.7 1218.9C855.7 1226.3 856.7 1233.8 857.8 1239.9C858.8 1246.1 859.6 1250.5 860.9 1255.8C862.1 1261.0 863.9 1267.4 865.5 1271.6C867.1 1275.7 870.4 1280.8 870.4 1280.8C870.4 1280.8 873.7 1277.9 875.3 1274.2C876.9 1270.5 878.4 1264.1 880.0 1258.4C881.5 1252.7 883.2 1246.5 884.6 1239.9C886.0 1233.4 887.1 1226.3 888.3 1218.9C889.4 1211.4 890.3 1201.7 891.4 1195.2C892.4 1188.6 893.3 1182.9 894.4 1179.4C895.6 1175.8 897.7 1174.4 898.2 1174.1C898.6 1173.8 901.3 1173.7 902.1 1174.6C902.9 1175.6 905.6 1181.2 907.2 1184.6C908.8 1188.0 910.2 1190.8 911.7 1195.2C913.2 1199.5 914.9 1204.8 916.3 1211.0C917.8 1217.1 919.1 1225.9 920.4 1232.0C921.6 1238.2 922.6 1244.1 924.1 1247.9C925.5 1251.6 927.9 1253.8 929.0 1254.4C930.1 1255.1 933.3 1254.0 935.1 1254.4C936.9 1254.9 939.5 1257.1 939.8 1257.1C940.0 1257.0 943.5 1253.8 945.4 1251.8C947.2 1249.8 949.0 1248.1 950.7 1245.2C952.4 1242.4 953.9 1238.6 955.5 1234.7C957.0 1230.7 958.6 1226.8 960.1 1221.5C961.6 1216.2 963.3 1211.0 964.7 1203.1C966.1 1195.2 967.1 1183.3 968.4 1174.1C969.7 1164.9 971.0 1155.2 972.4 1147.7C973.9 1140.3 975.5 1135.9 977.1 1129.3C978.6 1122.7 980.1 1116.1 981.7 1108.2C983.2 1100.3 984.8 1089.8 986.3 1081.9C987.8 1074.0 989.4 1068.3 990.9 1060.8C992.5 1053.3 994.0 1045.4 995.6 1037.1C997.1 1028.7 998.6 1019.1 1000.2 1010.7C1001.7 1002.4 1003.3 993.6 1004.8 987.0C1006.3 980.4 1007.9 975.8 1009.4 971.2C1010.9 966.6 1012.1 962.2 1013.9 959.4C1015.6 956.5 1019.9 954.1 1019.9 954.1C1019.9 954.1 1023.0 956.1 1024.2 960.7C1025.5 965.3 1026.1 972.5 1027.3 981.7C1028.5 991.0 1030.0 1003.7 1031.3 1016.0C1032.6 1028.3 1033.8 1042.3 1035.0 1055.5C1036.3 1068.7 1037.6 1083.2 1038.7 1095.0C1039.9 1106.9 1040.8 1117.4 1041.8 1126.7C1042.8 1135.9 1043.9 1144.2 1044.9 1150.4C1045.9 1156.5 1046.9 1160.6 1048.0 1163.5C1049.1 1166.5 1051.4 1168.3 1051.4 1168.3C1051.4 1168.3 1054.2 1165.2 1055.7 1160.9C1057.2 1156.6 1058.5 1149.9 1060.3 1142.5C1062.1 1135.0 1064.4 1125.3 1066.5 1116.1C1068.5 1106.9 1070.8 1097.2 1072.6 1087.1C1074.4 1077.0 1075.7 1065.2 1077.2 1055.5C1078.8 1045.9 1080.3 1038.0 1081.9 1029.2C1083.4 1020.4 1085.1 1008.5 1086.5 1002.8C1087.9 997.1 1089.1 996.8 1090.3 994.9C1091.5 993.1 1093.9 991.8 1093.9 991.8C1093.9 991.8 1096.6 993.5 1098.4 996.2C1100.2 999.0 1102.5 1004.8 1104.6 1008.1C1106.6 1011.4 1108.6 1012.0 1110.7 1016.0C1112.7 1020.0 1114.7 1025.2 1116.7 1031.8C1118.8 1038.4 1121.1 1047.2 1122.9 1055.5C1124.7 1063.9 1126.0 1073.1 1127.5 1081.9C1129.0 1090.6 1130.7 1101.2 1132.1 1108.2C1133.6 1115.2 1134.7 1120.7 1136.2 1124.0C1137.6 1127.3 1140.8 1128.0 1140.8 1128.0C1140.8 1128.0 1143.9 1127.8 1145.1 1124.0C1146.2 1120.2 1146.9 1112.2 1148.1 1102.9C1149.4 1093.7 1151.5 1080.1 1152.8 1068.7C1154.1 1057.3 1154.8 1043.2 1155.8 1034.4C1156.9 1025.7 1157.8 1019.7 1158.9 1016.0C1160.1 1012.3 1162.9 1012.0 1162.9 1012.0C1162.9 1012.0 1165.4 1013.8 1166.8 1016.0C1168.3 1018.2 1169.8 1023.0 1171.5 1025.2C1173.2 1027.4 1177.1 1029.2 1177.1 1029.2C1177.1 1029.2 1180.8 1023.7 1182.5 1021.3C1184.1 1018.9 1187.0 1014.7 1187.0 1014.7C1187.0 1014.7 1190.0 1015.3 1191.5 1017.3C1193.0 1019.3 1194.5 1023.2 1196.0 1026.5C1197.5 1029.8 1199.1 1034.0 1200.7 1037.1C1202.2 1040.1 1203.6 1043.1 1205.5 1045.0C1207.3 1046.8 1210.9 1048.2 1211.7 1048.1C1212.4 1048.1 1215.5 1045.1 1217.8 1043.7C1220.1 1042.3 1224.9 1039.7 1225.5 1039.7C1226.1 1039.8 1229.6 1042.3 1231.6 1045.0C1233.6 1047.6 1235.6 1051.1 1237.6 1055.5C1239.6 1059.9 1241.7 1065.6 1243.7 1071.3C1245.8 1077.0 1247.8 1084.1 1249.9 1089.8C1251.9 1095.5 1253.8 1100.3 1256.1 1105.6C1258.4 1110.8 1261.3 1116.1 1263.8 1121.4C1266.4 1126.7 1268.8 1132.1 1271.6 1137.2C1274.4 1142.2 1277.8 1146.9 1280.9 1151.7C1284.0 1156.5 1287.1 1161.6 1290.1 1166.2C1293.2 1170.8 1296.3 1175.4 1299.4 1179.4C1302.5 1183.3 1305.6 1186.2 1308.7 1189.9C1311.8 1193.6 1314.9 1197.8 1317.9 1201.7C1321.0 1205.7 1324.6 1209.4 1327.1 1213.6C1329.7 1217.8 1331.4 1223.5 1333.2 1226.8C1335.1 1230.1 1336.6 1231.6 1338.0 1233.4C1339.4 1235.1 1341.7 1237.3 1341.7 1237.3C1341.7 1237.3 1344.3 1237.8 1346.0 1232.0C1347.8 1226.3 1352.0 1203.1 1352.0 1203.1C1352.0 1203.1 1356.0 1211.8 1357.8 1216.2C1359.5 1220.6 1360.6 1225.0 1362.4 1229.4C1364.2 1233.8 1366.3 1238.2 1368.7 1242.6C1371.0 1247.0 1373.9 1252.0 1376.5 1255.8C1379.1 1259.5 1381.6 1261.7 1384.2 1265.0C1386.8 1268.3 1389.3 1272.4 1391.9 1275.5C1394.5 1278.6 1397.1 1281.0 1399.7 1283.4C1402.3 1285.8 1404.8 1288.0 1407.4 1290.0C1410.0 1292.0 1413.9 1295.1 1415.1 1295.3C1416.3 1295.5 1419.4 1294.4 1421.3 1292.6C1423.1 1290.9 1424.7 1289.1 1426.2 1284.7C1427.7 1280.3 1429.0 1273.8 1430.2 1266.3C1431.4 1258.8 1432.3 1248.7 1433.3 1239.9C1434.3 1231.2 1435.2 1222.8 1436.4 1213.6C1437.5 1204.4 1438.7 1193.8 1440.1 1184.6C1441.5 1175.4 1443.0 1166.6 1444.7 1158.3C1446.3 1149.9 1448.4 1142.0 1449.9 1134.6C1451.5 1127.1 1452.6 1122.3 1453.9 1113.5C1455.3 1104.7 1456.7 1092.8 1457.9 1081.9C1459.2 1070.9 1460.4 1058.6 1461.6 1047.6C1462.9 1036.6 1463.4 1027.6 1465.3 1016.0C1467.3 1004.4 1473.1 977.8 1473.1 977.8C1473.1 977.8 1479.0 988.6 1481.1 994.9C1483.2 1001.3 1484.2 1008.5 1485.7 1016.0C1487.2 1023.5 1488.8 1031.8 1490.3 1039.7C1491.9 1047.6 1493.2 1055.1 1495.0 1063.4C1496.8 1071.8 1499.1 1081.4 1501.1 1089.8C1503.2 1098.1 1505.2 1106.0 1507.3 1113.5C1509.3 1120.9 1511.1 1128.0 1513.4 1134.6C1515.8 1141.1 1518.6 1147.3 1521.2 1153.0C1523.8 1158.7 1526.4 1163.5 1529.0 1168.8C1531.5 1174.1 1534.1 1179.8 1536.7 1184.6C1539.3 1189.4 1541.9 1193.8 1544.5 1197.8C1547.0 1201.7 1549.8 1204.6 1552.1 1208.3C1554.5 1212.1 1556.2 1216.9 1558.3 1220.2C1560.4 1223.5 1564.2 1227.8 1564.6 1228.1C1565.1 1228.4 1568.5 1227.7 1568.9 1226.8C1569.3 1225.9 1570.4 1218.4 1571.1 1213.6C1571.8 1208.8 1573.2 1197.8 1573.2 1197.8C1573.2 1197.8 1575.7 1197.7 1575.8 1197.8C1575.9 1197.9 1577.6 1206.6 1578.8 1211.0C1580.0 1215.4 1581.1 1220.2 1582.8 1224.1C1584.6 1228.1 1586.8 1231.2 1589.2 1234.7C1591.5 1238.2 1594.1 1242.1 1596.9 1245.2C1599.8 1248.3 1603.1 1250.9 1606.2 1253.1C1609.3 1255.3 1612.4 1257.1 1615.5 1258.4C1618.6 1259.7 1621.9 1261.0 1624.7 1261.0C1627.5 1261.0 1630.1 1260.1 1632.4 1258.4C1634.8 1256.6 1636.9 1253.6 1638.7 1250.5C1640.6 1247.4 1642.1 1243.9 1643.5 1239.9C1644.9 1236.0 1646.1 1230.2 1647.2 1226.8C1648.3 1223.4 1649.0 1223.3 1650.3 1219.5C1651.6 1215.6 1653.4 1208.5 1654.9 1203.6C1656.5 1198.8 1658.0 1194.2 1659.5 1190.5C1661.0 1186.7 1662.5 1183.4 1664.0 1181.2C1665.5 1179.1 1667.7 1177.5 1668.5 1177.3C1669.3 1177.1 1671.8 1177.5 1673.1 1178.6C1674.4 1179.8 1676.0 1181.9 1677.5 1185.2C1679.0 1188.5 1680.5 1194.0 1682.1 1198.4C1683.6 1202.8 1685.2 1207.2 1686.7 1211.5C1688.2 1215.9 1689.9 1220.3 1691.3 1224.7C1692.8 1229.1 1694.1 1233.1 1695.3 1237.9C1696.5 1242.7 1697.4 1249.5 1698.4 1253.7C1699.5 1257.9 1700.9 1261.7 1701.6 1262.9C1702.4 1264.1 1704.9 1264.2 1704.9 1264.2C1704.9 1264.2 1707.7 1260.7 1708.9 1256.3C1710.0 1251.9 1711.0 1246.7 1712.0 1237.9C1712.9 1229.1 1713.6 1218.1 1714.4 1203.6C1715.2 1189.2 1715.9 1167.6 1716.6 1150.9C1717.3 1134.3 1717.5 1119.1 1718.7 1103.5C1720.0 1087.9 1724.0 1057.4 1724.0 1057.4C1724.0 1057.4 1727.8 1085.7 1729.2 1098.3C1730.6 1110.8 1731.2 1122.4 1732.3 1132.5C1733.4 1142.6 1734.8 1151.8 1736.0 1158.9C1737.2 1165.9 1738.4 1169.4 1739.7 1174.7C1741.0 1179.9 1742.4 1185.4 1743.7 1190.5C1745.1 1195.5 1747.1 1203.7 1747.8 1205.0C1748.6 1206.3 1751.4 1206.4 1752.3 1206.3C1753.3 1206.1 1756.2 1203.6 1756.2 1203.6C1756.2 1203.6 1757.9 1212.0 1759.1 1216.8C1760.4 1221.6 1762.2 1228.2 1763.8 1232.6C1765.3 1237.0 1766.7 1239.6 1768.5 1243.2C1770.3 1246.7 1772.6 1249.7 1774.7 1253.7C1776.7 1257.7 1778.5 1262.9 1780.9 1266.9C1783.2 1270.8 1786.1 1274.1 1788.6 1277.4C1791.2 1280.7 1794.0 1283.6 1796.3 1286.6C1798.6 1289.7 1800.4 1293.0 1802.5 1295.9C1804.6 1298.7 1806.6 1301.6 1808.7 1303.8C1810.8 1306.0 1814.6 1309.0 1814.9 1309.0C1815.2 1309.1 1818.6 1308.6 1819.2 1306.4C1819.9 1304.2 1820.7 1294.1 1821.4 1288.0C1822.1 1281.8 1822.7 1273.7 1823.5 1269.5C1824.4 1265.3 1826.3 1262.9 1826.3 1262.9C1826.3 1262.9 1828.9 1268.0 1830.3 1269.5C1831.7 1271.0 1835.0 1272.1 1835.0 1272.1C1835.0 1272.1 1837.6 1263.7 1838.1 1262.9C1838.7 1262.1 1841.7 1262.1 1841.7 1262.1C1841.7 1262.1 1844.2 1267.8 1845.4 1272.1C1846.7 1276.4 1848.2 1283.3 1849.5 1288.0C1850.7 1292.6 1851.8 1296.5 1853.2 1299.8C1854.6 1303.1 1856.4 1306.0 1858.0 1307.7C1859.6 1309.5 1862.3 1310.4 1862.7 1310.3C1863.1 1310.3 1866.4 1309.3 1867.6 1306.4C1868.8 1303.5 1869.8 1298.9 1870.7 1290.6C1871.6 1282.2 1872.1 1268.6 1872.9 1256.3C1873.6 1244.0 1874.0 1232.0 1875.3 1216.8C1876.6 1201.7 1880.6 1165.4 1880.6 1165.4C1880.6 1165.4 1884.3 1176.2 1885.5 1182.6C1886.7 1188.9 1886.9 1195.7 1887.7 1203.6C1888.4 1211.5 1889.2 1221.2 1890.1 1230.0C1891.1 1238.8 1892.1 1248.0 1893.2 1256.3C1894.4 1264.7 1895.6 1273.5 1896.9 1280.0C1898.2 1286.6 1899.2 1291.9 1901.0 1295.9C1902.7 1299.8 1907.4 1303.8 1907.4 1303.8C1907.4 1303.8 1911.1 1303.2 1912.2 1301.1C1913.3 1299.1 1914.9 1295.4 1916.0 1288.0C1917.2 1280.5 1918.2 1268.2 1919.1 1256.3C1920.0 1244.5 1920.8 1230.0 1921.6 1216.8C1922.3 1203.6 1923.0 1192.7 1923.7 1177.3C1924.5 1161.9 1925.3 1142.2 1926.2 1124.6C1927.1 1107.0 1928.2 1088.6 1929.3 1071.9C1930.3 1055.2 1931.3 1035.5 1932.4 1024.5C1933.4 1013.5 1934.8 1008.9 1935.4 1006.0C1936.1 1003.1 1937.0 1004.7 1937.0 1004.7C1937.0 1004.7 1939.2 1011.1 1940.1 1019.2C1941.0 1027.3 1941.7 1041.2 1942.5 1053.5C1943.4 1065.8 1944.1 1081.1 1945.0 1093.0C1945.9 1104.8 1947.1 1115.8 1948.1 1124.6C1949.1 1133.4 1950.0 1139.1 1951.2 1145.7C1952.3 1152.3 1953.4 1160.2 1954.9 1164.1C1956.3 1168.1 1959.8 1169.4 1959.8 1169.4C1959.8 1169.4 1962.7 1167.6 1964.5 1165.4C1966.3 1163.2 1968.7 1159.7 1970.7 1156.2C1972.8 1152.7 1974.8 1147.4 1976.9 1144.4C1978.9 1141.3 1982.0 1138.2 1982.9 1137.8C1983.9 1137.4 1987.0 1138.7 1989.1 1139.1C1991.1 1139.5 1993.2 1140.8 1995.3 1140.4C1997.3 1140.0 2001.4 1136.6 2003.0 1136.5C2004.5 1136.3 2007.1 1138.2 2009.1 1139.1C2011.2 1140.0 2013.7 1140.0 2015.2 1141.7C2016.7 1143.4 2018.3 1146.8 2019.6 1150.9C2021.0 1155.1 2022.1 1162.6 2023.3 1166.8C2024.5 1170.9 2026.7 1176.0 2026.7 1176.0C2026.7 1176.0 2029.1 1170.5 2030.1 1166.8C2031.1 1163.0 2031.7 1156.2 2032.5 1153.6C2033.4 1150.9 2035.0 1150.9 2035.0 1150.9C2035.0 1150.9 2036.1 1168.5 2036.6 1177.3C2037.1 1186.1 2037.4 1195.3 2038.1 1203.6C2038.8 1212.0 2039.5 1221.6 2040.6 1227.4C2041.6 1233.1 2043.0 1235.5 2044.4 1237.9C2045.9 1240.3 2048.9 1241.8 2049.2 1241.8C2049.5 1241.8 2053.6 1239.9 2055.4 1237.9C2057.2 1235.9 2058.9 1233.1 2060.3 1230.0C2061.6 1226.9 2062.0 1222.1 2063.3 1219.5C2064.5 1216.8 2067.4 1214.2 2067.7 1214.2C2068.0 1214.1 2072.1 1216.4 2073.9 1216.8C2075.7 1217.3 2077.8 1217.2 2078.5 1216.8C2079.1 1216.4 2080.7 1213.9 2081.8 1211.5C2082.9 1209.2 2084.4 1205.3 2085.3 1202.8C2086.2 1200.2 2086.6 1197.8 2087.1 1196.2C2087.7 1194.5 2088.9 1192.9 2088.9 1192.9C2088.9 1192.9 2090.9 1193.2 2091.9 1194.2C2092.9 1195.2 2093.9 1197.0 2094.8 1198.8C2095.8 1200.7 2096.8 1203.0 2097.8 1205.4C2098.8 1207.8 2099.9 1210.5 2100.9 1213.3C2101.9 1216.2 2103.1 1219.5 2104.0 1222.5C2104.9 1225.6 2105.5 1228.9 2106.3 1231.8C2107.1 1234.6 2107.7 1237.5 2108.6 1239.7C2109.5 1241.9 2110.7 1243.2 2111.9 1244.9C2113.0 1246.7 2114.6 1247.8 2115.6 1250.2C2116.6 1252.6 2117.0 1256.4 2117.8 1259.4C2118.7 1262.5 2119.5 1265.8 2120.5 1268.6C2121.4 1271.5 2122.5 1273.9 2123.5 1276.6C2124.6 1279.2 2125.6 1282.1 2126.7 1284.5C2127.8 1286.8 2129.0 1288.6 2130.4 1290.4C2131.8 1292.1 2133.5 1293.6 2135.1 1295.0C2136.6 1296.4 2138.0 1298.0 2139.7 1298.9C2141.4 1299.9 2143.2 1300.5 2145.1 1300.9C2147.0 1301.4 2149.2 1301.7 2151.3 1301.6C2153.3 1301.5 2155.4 1301.0 2157.4 1300.3C2159.5 1299.5 2161.9 1298.0 2163.6 1297.0C2165.3 1296.0 2166.2 1295.5 2167.5 1294.3C2168.8 1293.1 2170.2 1291.2 2171.4 1289.7C2172.5 1288.3 2173.4 1286.4 2174.4 1285.8C2175.4 1285.2 2177.7 1285.3 2179.0 1285.1C2180.3 1284.9 2181.1 1285.2 2182.1 1284.5C2183.1 1283.7 2184.5 1282.5 2185.4 1280.5C2186.4 1278.5 2187.0 1275.0 2187.8 1272.6C2188.6 1270.2 2189.1 1267.5 2190.0 1266.0C2190.8 1264.5 2191.6 1263.9 2192.9 1263.4C2194.2 1262.8 2196.8 1263.3 2197.5 1262.7C2198.3 1262.2 2199.5 1261.5 2200.1 1258.1C2200.7 1254.7 2200.8 1248.2 2201.2 1242.3C2201.6 1236.4 2202.0 1230.2 2202.4 1222.5C2202.9 1214.9 2203.3 1205.0 2203.7 1196.2C2204.1 1187.4 2204.4 1178.6 2204.8 1169.8C2205.1 1161.1 2205.6 1152.3 2206.0 1143.5C2206.4 1134.7 2206.6 1125.9 2207.1 1117.1C2207.5 1108.4 2207.5 1097.9 2208.6 1090.8C2209.7 1083.7 2213.7 1074.3 2213.7 1074.3C2213.7 1074.3 2216.4 1084.8 2217.3 1090.8C2218.1 1096.8 2218.3 1104.0 2218.8 1110.6C2219.3 1117.1 2219.7 1122.6 2220.3 1130.3C2221.0 1138.0 2222.0 1149.0 2222.6 1156.7C2223.3 1164.4 2223.6 1169.8 2224.2 1176.4C2224.8 1183.0 2225.5 1189.6 2226.2 1196.2C2226.8 1202.8 2227.5 1209.8 2228.0 1216.0C2228.6 1222.1 2229.0 1228.0 2229.6 1233.1C2230.1 1238.1 2230.8 1242.3 2231.4 1246.3C2232.1 1250.2 2232.7 1254.2 2233.4 1256.8C2234.2 1259.4 2235.0 1260.7 2235.9 1262.1C2236.9 1263.4 2238.7 1264.6 2239.1 1264.7C2239.5 1264.8 2241.3 1264.3 2242.2 1263.4C2243.2 1262.5 2244.1 1261.4 2244.8 1259.4C2245.5 1257.4 2245.9 1253.9 2246.4 1251.5C2246.9 1249.1 2247.4 1246.6 2247.9 1244.9C2248.4 1243.3 2248.8 1242.4 2249.3 1241.6C2249.7 1240.9 2250.7 1240.3 2250.7 1240.3C2250.7 1240.3 2252.2 1240.9 2252.8 1242.3C2253.4 1243.7 2253.6 1246.5 2254.2 1248.9C2254.9 1251.3 2255.8 1254.2 2256.6 1256.8C2257.3 1259.4 2258.1 1261.8 2258.9 1264.7C2259.6 1267.5 2260.4 1271.3 2261.2 1273.9C2261.9 1276.6 2263.1 1279.4 2263.5 1280.5" stroke="#800000" stroke-width="10.6"/>
<path class="c" d="M160.8 1919.1C162.3 1918.3 169.4 1914.5 170.0 1914.6C170.7 1914.6 174.3 1919.6 176.2 1920.4C178.1 1921.2 181.5 1921.3 183.9 1920.4C186.4 1919.4 190.4 1914.8 191.6 1914.6C192.8 1914.4 196.8 1916.5 199.3 1917.7C201.9 1918.9 204.5 1920.8 207.0 1921.7C209.6 1922.6 212.2 1923.3 214.7 1923.0C217.3 1922.7 219.9 1920.1 222.4 1919.8C225.0 1919.6 227.6 1921.8 230.1 1921.7C232.7 1921.6 235.3 1919.5 237.9 1919.1C240.4 1918.6 243.5 1919.8 245.6 1919.1C247.6 1918.3 251.7 1913.8 251.7 1913.8C251.7 1913.8 256.5 1920.9 257.9 1921.7C259.3 1922.5 262.8 1921.9 265.6 1921.7C268.4 1921.5 272.5 1922.0 274.8 1920.4C277.2 1918.8 283.2 1909.8 283.2 1909.8C283.2 1909.8 286.7 1913.1 288.6 1915.1C290.4 1917.1 294.3 1921.7 294.3 1921.7C294.3 1921.7 297.3 1918.4 299.5 1917.2C301.7 1916.0 304.8 1916.0 307.2 1914.6C309.6 1913.1 312.1 1911.5 313.9 1908.5C315.8 1905.5 316.9 1900.8 318.1 1896.7C319.3 1892.5 319.7 1887.0 321.1 1883.5C322.5 1880.0 324.6 1878.7 326.3 1875.6C328.0 1872.5 329.7 1869.4 331.3 1865.0C332.9 1860.6 334.4 1854.5 336.0 1849.2C337.5 1844.0 339.3 1838.7 340.6 1833.4C341.9 1828.2 342.6 1822.4 343.7 1817.6C344.7 1812.8 345.5 1808.8 346.7 1804.4C348.0 1800.0 349.8 1796.1 351.4 1791.3C352.9 1786.4 354.5 1781.6 356.0 1775.5C357.5 1769.3 359.1 1761.0 360.6 1754.4C362.2 1747.8 363.7 1743.0 365.2 1735.9C366.8 1728.9 368.7 1719.0 369.9 1712.2C371.0 1705.4 371.9 1696.1 372.2 1695.1C372.6 1694.1 375.1 1694.4 376.6 1693.8C378.1 1693.2 379.7 1693.4 381.4 1691.7C383.1 1689.9 385.2 1686.8 386.8 1683.2C388.3 1679.6 389.4 1672.9 390.6 1670.1C391.8 1667.2 392.9 1667.9 393.9 1666.1C395.0 1664.4 396.0 1661.3 397.0 1659.5C398.1 1657.8 400.3 1655.6 400.3 1655.6C400.3 1655.6 402.4 1656.7 403.6 1659.5C404.7 1662.4 405.7 1668.8 407.3 1672.7C408.9 1676.7 411.1 1680.2 413.1 1683.2C415.2 1686.3 417.9 1689.4 419.7 1691.1C421.5 1692.9 423.2 1691.5 424.0 1693.8C424.7 1696.1 425.5 1705.6 426.4 1712.2C427.4 1718.8 428.5 1727.6 429.5 1733.3C430.5 1739.0 431.3 1741.6 432.6 1746.5C433.9 1751.3 435.8 1757.5 437.2 1762.3C438.7 1767.1 440.0 1772.4 441.4 1775.5C442.8 1778.5 444.5 1777.2 445.5 1780.7C446.6 1784.2 447.0 1790.8 448.0 1796.5C449.0 1802.2 450.4 1810.1 451.7 1815.0C453.0 1819.8 454.2 1821.6 455.7 1825.5C457.2 1829.5 459.1 1835.8 460.6 1838.7C462.2 1841.5 463.6 1841.8 465.0 1842.6C466.5 1843.5 469.1 1844.0 469.1 1844.0C469.1 1844.0 472.0 1837.7 472.8 1836.1C473.5 1834.4 473.5 1833.9 473.5 1833.9C473.5 1833.9 475.6 1845.8 476.1 1846.6C476.6 1847.4 480.1 1847.5 481.4 1847.9C482.6 1848.4 483.1 1847.6 483.7 1849.2C484.4 1850.9 485.3 1858.2 486.6 1861.1C487.9 1863.9 491.6 1866.4 491.6 1866.4C491.6 1866.4 495.0 1863.5 496.3 1859.8C497.5 1856.0 498.5 1847.5 499.3 1844.0C500.2 1840.4 500.4 1839.9 501.5 1838.7C502.6 1837.5 505.0 1838.1 506.4 1836.1C507.9 1834.0 509.8 1830.8 511.0 1825.5C512.3 1820.2 513.1 1812.3 514.1 1804.4C515.2 1796.5 516.1 1786.4 517.2 1778.1C518.3 1769.8 519.7 1761.4 520.9 1754.4C522.1 1747.4 523.3 1742.1 524.6 1735.9C525.9 1729.8 527.3 1724.5 528.6 1717.5C530.0 1710.5 531.1 1700.4 532.6 1693.8C534.2 1687.2 536.3 1683.0 537.9 1678.0C539.5 1672.9 540.8 1666.6 542.2 1663.5C543.5 1660.4 545.3 1659.8 546.1 1659.5C546.9 1659.3 551.3 1659.9 552.1 1660.8C552.8 1661.8 554.5 1668.1 555.9 1672.7C557.3 1677.3 559.0 1681.9 560.5 1688.5C562.1 1695.1 563.6 1703.9 565.2 1712.2C566.7 1720.6 568.2 1729.8 569.8 1738.6C571.3 1747.4 572.9 1756.6 574.4 1764.9C575.9 1773.3 577.5 1780.7 579.0 1788.6C580.6 1796.5 582.1 1805.3 583.6 1812.3C585.2 1819.4 586.7 1826.4 588.3 1830.8C589.9 1835.2 591.9 1836.1 593.3 1838.7C594.7 1841.3 595.6 1842.6 596.6 1846.6C597.6 1850.5 597.8 1858.9 599.1 1862.4C600.3 1865.9 602.6 1865.0 604.2 1867.7C605.8 1870.3 607.0 1874.9 608.6 1878.2C610.1 1881.5 611.9 1885.3 613.5 1887.4C615.0 1889.5 618.0 1890.9 618.0 1890.9C618.0 1890.9 620.3 1874.6 621.1 1870.3C621.9 1866.0 622.9 1865.0 622.9 1865.0C622.9 1865.0 624.1 1875.2 625.4 1878.2C626.7 1881.2 630.1 1883.2 630.9 1883.5C631.7 1883.8 634.3 1883.6 635.7 1882.2C637.0 1880.8 639.5 1879.1 641.1 1872.9C642.8 1866.8 644.2 1853.0 645.5 1845.3C646.7 1837.6 647.5 1832.3 648.8 1826.6C650.2 1820.9 652.4 1815.9 653.5 1811.2C654.5 1806.4 655.1 1798.0 655.1 1798.0C655.1 1798.0 658.8 1800.6 658.8 1800.6C658.8 1800.6 662.3 1789.6 662.3 1789.6C662.3 1789.6 665.0 1795.5 666.5 1798.0C668.0 1800.5 669.6 1802.4 671.2 1804.6C672.9 1806.8 675.8 1811.0 676.2 1811.2C676.6 1811.4 680.8 1809.9 680.8 1809.9C680.8 1809.9 683.0 1816.9 683.7 1817.8C684.4 1818.7 687.4 1818.0 688.4 1819.1C689.4 1820.1 690.8 1825.0 692.1 1827.0C693.4 1829.0 694.8 1830.2 696.2 1830.9C697.7 1831.7 700.1 1831.1 700.9 1831.7C701.6 1832.4 703.0 1832.2 703.9 1837.5C704.7 1842.9 705.2 1856.0 706.0 1863.9C706.9 1871.8 707.8 1879.2 709.1 1885.0C710.4 1890.7 712.4 1894.6 713.9 1898.1C715.4 1901.6 716.9 1902.1 718.4 1906.0C719.8 1910.0 720.9 1918.1 722.4 1921.8C723.8 1925.6 727.1 1928.4 727.1 1928.4C727.1 1928.4 731.7 1925.8 731.7 1925.8C731.7 1925.8 733.7 1930.0 735.3 1932.4C736.8 1934.8 740.9 1940.3 740.9 1940.3C740.9 1940.3 743.9 1939.0 745.6 1937.7C747.2 1936.3 749.4 1935.0 750.9 1932.4C752.3 1929.7 753.2 1926.7 754.3 1921.8C755.3 1917.0 756.4 1908.7 757.4 1903.4C758.3 1898.1 759.5 1891.1 760.0 1890.2C760.4 1889.4 764.1 1890.2 765.0 1888.9C765.9 1887.7 768.1 1880.3 769.5 1877.1C771.0 1873.8 772.1 1871.3 773.6 1869.1C775.2 1867.0 777.6 1868.1 778.9 1863.9C780.3 1859.7 781.0 1849.4 782.0 1842.8C783.0 1836.2 784.0 1828.3 785.1 1824.4C786.2 1820.4 787.3 1821.3 788.6 1819.1C789.9 1816.9 791.5 1815.1 792.8 1811.2C794.1 1807.2 795.5 1800.6 796.5 1795.4C797.5 1790.1 798.1 1784.0 799.0 1779.6C799.9 1775.2 801.0 1771.3 801.8 1769.0C802.7 1766.7 804.1 1765.9 804.1 1765.9C804.1 1765.9 806.2 1766.7 807.3 1769.0C808.4 1771.3 809.6 1774.7 810.8 1779.6C812.1 1784.4 813.7 1790.5 814.8 1798.0C816.0 1805.5 816.9 1815.6 817.9 1824.4C819.0 1833.1 819.9 1841.9 821.0 1850.7C822.1 1859.5 823.3 1869.6 824.7 1877.1C826.1 1884.5 827.7 1890.7 829.3 1895.5C830.9 1900.3 832.7 1903.2 834.4 1906.0C836.1 1908.9 838.5 1911.9 839.6 1912.6C840.6 1913.3 843.4 1912.0 844.2 1912.6C845.0 1913.2 847.2 1917.7 848.7 1919.2C850.3 1920.7 852.9 1921.9 853.5 1921.8C854.1 1921.8 857.2 1919.6 859.1 1917.9C860.9 1916.1 862.4 1913.5 864.4 1911.3C866.4 1909.1 869.1 1908.2 871.0 1904.7C873.0 1901.2 874.5 1894.8 876.0 1890.2C877.6 1885.6 878.6 1880.6 880.3 1877.1C882.0 1873.5 884.5 1872.2 886.3 1869.1C888.2 1866.1 889.9 1862.6 891.4 1858.6C893.0 1854.7 893.9 1848.7 895.6 1845.4C897.4 1842.1 899.9 1841.9 901.7 1838.9C903.6 1835.8 905.2 1830.7 906.8 1827.0C908.3 1823.3 909.7 1819.5 911.1 1816.5C912.6 1813.4 913.6 1810.5 915.2 1808.6C916.9 1806.6 919.2 1806.4 921.3 1804.6C923.4 1802.8 926.0 1800.9 927.9 1798.0C929.7 1795.2 930.6 1789.9 932.3 1787.5C934.1 1785.1 936.6 1785.7 938.4 1783.5C940.3 1781.3 942.0 1777.6 943.6 1774.3C945.2 1771.0 946.5 1767.7 948.3 1763.8C950.1 1759.8 952.0 1755.4 954.4 1750.6C956.7 1745.8 960.2 1740.0 962.3 1734.8C964.4 1729.5 965.4 1724.2 967.0 1719.0C968.5 1713.7 969.8 1708.0 971.6 1703.2C973.4 1698.3 976.0 1694.8 977.8 1690.0C979.6 1685.2 980.8 1680.3 982.4 1674.2C983.9 1668.0 985.5 1659.7 987.0 1653.1C988.5 1646.5 990.1 1640.8 991.6 1634.7C993.2 1628.5 994.7 1622.4 996.3 1616.2C997.8 1610.1 999.3 1603.5 1000.9 1597.8C1002.4 1592.1 1004.0 1586.6 1005.5 1582.0C1007.0 1577.4 1008.5 1573.6 1010.0 1570.1C1011.4 1566.6 1012.3 1563.2 1014.0 1560.9C1015.7 1558.6 1019.1 1556.6 1019.9 1556.4C1020.7 1556.2 1023.3 1556.8 1024.3 1558.3C1025.4 1559.7 1026.8 1563.1 1028.2 1567.5C1029.6 1571.9 1031.2 1577.8 1032.8 1584.6C1034.3 1591.4 1035.9 1599.5 1037.4 1608.3C1039.0 1617.1 1040.5 1627.2 1042.0 1637.3C1043.6 1647.4 1045.1 1658.8 1046.7 1668.9C1048.2 1679.0 1049.7 1688.7 1051.3 1697.9C1052.8 1707.1 1054.4 1715.9 1055.9 1724.2C1057.4 1732.6 1059.0 1740.9 1060.5 1748.0C1062.1 1755.0 1063.3 1761.1 1065.2 1766.4C1067.0 1771.7 1069.6 1775.8 1071.8 1779.6C1073.9 1783.3 1075.9 1786.2 1078.3 1788.8C1080.7 1791.4 1083.6 1793.6 1086.2 1795.4C1088.8 1797.1 1091.3 1798.5 1093.9 1799.3C1096.5 1800.2 1099.3 1800.9 1101.6 1800.6C1103.9 1800.4 1105.6 1799.8 1107.8 1798.0C1109.9 1796.3 1112.2 1793.6 1114.4 1790.1C1116.6 1786.6 1118.8 1781.5 1120.9 1776.9C1123.0 1772.3 1125.4 1767.9 1127.3 1762.4C1129.1 1757.0 1130.1 1751.2 1131.9 1744.0C1133.7 1736.8 1136.0 1727.7 1138.1 1719.5C1140.1 1711.3 1142.4 1702.4 1144.2 1694.7C1146.0 1687.0 1147.7 1678.7 1148.8 1673.4C1150.0 1668.0 1149.6 1668.7 1151.0 1662.7C1152.4 1656.7 1155.1 1646.1 1157.2 1637.4C1159.2 1628.7 1161.3 1618.9 1163.3 1610.5C1165.4 1602.1 1167.4 1594.7 1169.5 1586.8C1171.6 1578.9 1173.6 1570.5 1175.7 1563.1C1177.7 1555.6 1179.8 1549.0 1181.8 1542.0C1183.9 1535.0 1185.9 1527.9 1188.0 1520.9C1190.0 1513.9 1192.1 1506.4 1194.2 1499.8C1196.2 1493.2 1198.3 1486.9 1200.3 1481.4C1202.3 1475.9 1204.2 1470.9 1206.1 1466.9C1208.0 1463.0 1209.5 1460.0 1211.7 1457.7C1213.9 1455.4 1216.8 1453.9 1219.4 1452.9C1221.9 1452.0 1224.5 1451.8 1227.1 1451.9C1229.6 1452.0 1232.3 1452.3 1234.8 1453.7C1237.3 1455.1 1240.0 1457.0 1242.1 1460.3C1244.3 1463.6 1245.7 1468.2 1247.6 1473.5C1249.6 1478.8 1252.0 1485.8 1253.8 1491.9C1255.6 1498.1 1256.9 1503.8 1258.4 1510.4C1260.0 1517.0 1261.5 1523.5 1263.1 1531.5C1264.6 1539.4 1266.1 1549.0 1267.7 1557.8C1269.2 1566.6 1270.8 1575.4 1272.3 1584.1C1273.8 1592.9 1275.4 1601.7 1276.9 1610.5C1278.5 1619.3 1280.0 1628.5 1281.6 1636.8C1283.1 1645.2 1284.6 1653.1 1286.2 1660.6C1287.7 1668.0 1289.3 1675.0 1290.8 1681.6C1292.3 1688.2 1293.9 1694.4 1295.4 1700.1C1297.0 1705.8 1298.5 1710.6 1300.0 1715.9C1301.6 1721.2 1303.1 1727.1 1304.7 1731.7C1306.2 1736.3 1307.6 1739.6 1309.5 1743.5C1311.4 1747.5 1313.8 1751.7 1315.9 1755.4C1318.0 1759.1 1320.1 1762.9 1322.3 1765.9C1324.4 1769.0 1326.9 1772.2 1328.7 1773.8C1330.6 1775.5 1332.3 1776.0 1333.4 1776.0C1334.5 1776.0 1336.4 1775.3 1338.1 1773.8C1339.7 1772.4 1341.6 1770.3 1343.3 1767.3C1345.0 1764.2 1346.7 1760.5 1348.3 1755.4C1349.9 1750.4 1351.4 1743.1 1352.9 1737.0C1354.5 1730.8 1356.0 1724.7 1357.5 1718.5C1359.1 1712.4 1360.6 1706.2 1362.2 1700.1C1363.7 1693.9 1365.3 1686.9 1366.8 1681.6C1368.3 1676.4 1369.8 1671.8 1371.2 1668.5C1372.5 1665.2 1373.9 1662.9 1375.0 1661.9C1376.2 1660.8 1379.0 1660.4 1379.7 1660.6C1380.3 1660.8 1382.4 1661.9 1383.8 1664.5C1385.2 1667.1 1386.4 1671.3 1387.9 1676.4C1389.4 1681.4 1391.0 1688.7 1392.5 1694.8C1394.1 1701.0 1395.6 1707.5 1397.2 1713.2C1398.7 1719.0 1399.9 1724.2 1401.8 1729.1C1403.6 1733.9 1406.1 1737.8 1408.2 1742.2C1410.3 1746.6 1412.2 1751.0 1414.4 1755.4C1416.5 1759.8 1418.9 1765.7 1420.8 1768.6C1422.8 1771.4 1425.3 1772.5 1425.9 1772.5C1426.5 1772.6 1429.7 1772.2 1431.1 1769.9C1432.5 1767.6 1434.5 1762.6 1436.1 1755.4C1437.8 1748.2 1439.2 1737.4 1440.8 1726.4C1442.3 1715.4 1443.8 1702.7 1445.4 1689.5C1446.9 1676.4 1448.5 1660.6 1450.0 1647.4C1451.6 1634.2 1453.1 1621.5 1454.6 1610.5C1456.2 1599.5 1457.7 1590.3 1459.3 1581.5C1460.8 1572.7 1462.3 1565.3 1463.9 1557.8C1465.4 1550.3 1467.0 1542.9 1468.5 1536.7C1470.0 1530.6 1471.3 1524.9 1472.9 1520.9C1474.6 1517.0 1476.1 1514.9 1478.3 1513.0C1480.5 1511.2 1485.0 1509.7 1486.0 1509.8C1487.0 1509.9 1490.0 1511.6 1491.9 1514.3C1493.8 1517.1 1495.5 1521.1 1497.4 1526.2C1499.3 1531.2 1501.5 1538.5 1503.5 1544.6C1505.5 1550.8 1507.6 1556.0 1509.7 1563.1C1511.7 1570.1 1513.8 1578.9 1515.8 1586.8C1517.9 1594.7 1520.2 1602.6 1522.0 1610.5C1523.8 1618.4 1525.1 1626.3 1526.6 1634.2C1528.2 1642.1 1530.0 1650.5 1531.2 1657.9C1532.5 1665.4 1533.0 1672.0 1534.3 1679.0C1535.6 1686.0 1537.4 1693.9 1539.0 1700.1C1540.5 1706.2 1541.7 1711.1 1543.6 1715.9C1545.4 1720.7 1547.9 1725.1 1550.1 1729.1C1552.3 1733.0 1554.6 1737.3 1556.8 1739.6C1558.9 1741.9 1560.7 1742.0 1563.1 1742.8C1565.4 1743.5 1568.0 1744.1 1570.8 1744.3C1573.6 1744.6 1577.2 1743.6 1580.0 1744.3C1582.9 1745.1 1585.2 1747.0 1587.7 1748.8C1590.3 1750.7 1592.9 1753.2 1595.4 1755.4C1598.0 1757.6 1600.3 1759.8 1603.1 1762.0C1606.0 1764.2 1609.3 1766.4 1612.4 1768.6C1615.5 1770.8 1618.8 1772.5 1621.6 1775.2C1624.3 1777.8 1626.7 1780.7 1628.9 1784.4C1631.1 1788.1 1632.9 1793.2 1634.6 1797.6C1636.3 1802.0 1637.5 1806.8 1639.1 1810.7C1640.7 1814.7 1642.5 1818.3 1644.2 1821.3C1645.9 1824.3 1647.8 1825.5 1649.4 1828.7C1651.0 1831.9 1652.2 1837.0 1653.8 1840.6C1655.4 1844.1 1656.9 1846.9 1658.8 1849.8C1660.8 1852.6 1663.0 1855.7 1665.4 1857.7C1667.8 1859.7 1671.6 1861.5 1673.1 1861.6C1674.6 1861.8 1677.2 1860.5 1679.3 1859.0C1681.4 1857.5 1683.6 1855.3 1685.8 1852.4C1687.9 1849.6 1690.1 1845.6 1692.2 1841.9C1694.3 1838.1 1696.4 1834.2 1698.5 1830.0C1700.6 1825.8 1702.6 1821.2 1704.7 1816.8C1706.8 1812.5 1709.2 1807.2 1710.8 1803.7C1712.4 1800.2 1713.4 1797.4 1714.4 1795.8C1715.5 1794.1 1717.2 1793.7 1717.2 1793.7C1717.2 1793.7 1719.1 1794.5 1720.3 1797.1C1721.5 1799.6 1723.1 1804.3 1724.5 1808.9C1726.0 1813.6 1727.6 1819.5 1729.1 1824.7C1730.7 1830.0 1732.2 1835.7 1733.8 1840.6C1735.3 1845.4 1736.6 1849.3 1738.5 1853.7C1740.3 1858.1 1742.7 1862.7 1744.9 1866.9C1747.0 1871.1 1749.1 1875.2 1751.2 1878.8C1753.4 1882.3 1755.4 1885.8 1757.8 1888.0C1760.2 1890.2 1763.1 1891.5 1765.6 1891.9C1768.1 1892.4 1770.7 1890.8 1773.3 1890.6C1775.9 1890.4 1778.4 1890.2 1781.0 1890.6C1783.6 1891.1 1786.2 1891.7 1788.7 1893.3C1791.3 1894.8 1794.0 1897.2 1796.3 1899.8C1798.5 1902.5 1800.3 1906.6 1802.4 1909.1C1804.5 1911.5 1806.7 1913.0 1808.8 1914.3C1810.8 1915.6 1812.9 1915.6 1814.9 1917.0C1817.0 1918.3 1818.8 1920.9 1821.1 1922.2C1823.4 1923.6 1827.6 1925.1 1828.8 1924.9C1830.0 1924.7 1833.4 1922.2 1835.3 1919.6C1837.2 1917.0 1838.8 1912.4 1840.3 1909.1C1841.9 1905.8 1843.0 1902.7 1844.6 1899.8C1846.3 1897.0 1848.7 1893.2 1850.4 1891.9C1852.0 1890.6 1854.5 1890.9 1856.5 1890.6C1858.6 1890.3 1860.9 1891.2 1862.7 1890.1C1864.5 1889.0 1867.7 1886.6 1869.6 1882.7C1871.6 1878.8 1873.0 1873.1 1874.5 1866.9C1876.0 1860.8 1877.2 1854.2 1878.5 1845.8C1879.8 1837.5 1881.0 1826.9 1882.2 1816.8C1883.4 1806.7 1884.6 1795.8 1885.9 1785.2C1887.2 1774.7 1888.6 1763.3 1889.9 1753.6C1891.2 1744.0 1892.3 1734.5 1893.9 1727.3C1895.5 1720.0 1899.7 1710.1 1899.7 1710.1C1899.7 1710.1 1904.6 1725.7 1906.4 1732.5C1908.2 1739.3 1909.1 1745.3 1910.4 1751.0C1911.7 1756.7 1912.7 1763.3 1914.1 1766.8C1915.5 1770.3 1917.7 1771.4 1918.8 1772.1C1919.9 1772.7 1922.3 1772.3 1923.7 1772.1C1925.2 1771.8 1927.4 1770.7 1927.4 1770.7C1927.4 1770.7 1929.8 1773.6 1931.1 1777.3C1932.5 1781.1 1934.2 1787.0 1935.7 1793.1C1937.2 1799.3 1938.8 1808.5 1940.3 1814.2C1941.8 1819.9 1943.4 1823.0 1944.9 1827.4C1946.5 1831.8 1948.0 1835.7 1949.6 1840.6C1951.1 1845.4 1952.6 1851.5 1954.2 1856.4C1955.8 1861.2 1957.2 1866.0 1959.2 1869.5C1961.1 1873.1 1963.5 1875.2 1965.9 1877.4C1968.3 1879.6 1970.8 1881.4 1973.7 1882.7C1976.5 1884.0 1980.1 1885.1 1982.9 1885.3C1985.7 1885.6 1988.1 1884.9 1990.6 1884.0C1993.2 1883.2 1995.8 1880.8 1998.3 1880.1C2000.9 1879.3 2003.2 1879.5 2006.0 1879.6C2008.9 1879.6 2012.9 1879.5 2015.3 1880.6C2017.6 1881.7 2019.5 1884.8 2021.3 1886.7C2023.1 1888.6 2026.1 1891.9 2026.1 1891.9C2026.1 1891.9 2029.7 1891.5 2030.8 1888.0C2031.9 1884.4 2033.8 1866.9 2033.8 1866.9C2033.8 1866.9 2035.8 1887.1 2036.8 1893.3C2037.8 1899.4 2039.4 1903.6 2039.5 1903.8C2039.7 1904.0 2043.7 1904.5 2044.6 1903.8C2045.5 1903.1 2048.2 1898.7 2049.8 1895.9C2051.4 1893.0 2052.5 1889.3 2054.2 1886.7C2055.9 1884.0 2058.0 1881.6 2060.0 1880.1C2062.0 1878.5 2065.9 1877.4 2066.2 1877.4C2066.4 1877.5 2069.0 1880.5 2070.4 1882.7C2071.9 1884.9 2073.1 1887.5 2074.9 1890.6C2076.7 1893.7 2079.4 1898.1 2081.0 1901.2C2082.5 1904.2 2083.0 1906.2 2084.4 1908.7C2085.8 1911.3 2087.6 1914.3 2089.2 1916.6C2090.9 1919.0 2092.3 1920.8 2094.2 1922.6C2096.0 1924.3 2098.3 1926.0 2100.4 1927.2C2102.5 1928.4 2105.2 1929.6 2106.6 1929.8C2108.0 1930.0 2109.3 1929.2 2110.4 1928.5C2111.6 1927.8 2112.5 1926.4 2113.5 1925.9C2114.5 1925.3 2116.1 1925.0 2116.6 1925.2C2117.1 1925.4 2118.6 1927.5 2119.6 1928.5C2120.6 1929.5 2121.9 1931.2 2122.8 1931.4C2123.6 1931.6 2126.2 1931.0 2128.2 1930.5C2130.1 1930.0 2132.3 1929.4 2134.3 1928.5C2136.4 1927.6 2138.4 1926.5 2140.5 1925.2C2142.5 1923.9 2144.8 1922.1 2146.7 1920.6C2148.5 1919.1 2150.0 1917.7 2151.5 1916.0C2153.0 1914.2 2154.1 1911.7 2155.4 1910.1C2156.6 1908.4 2157.4 1907.0 2159.0 1906.1C2160.6 1905.2 2163.1 1904.6 2165.1 1904.5C2167.2 1904.5 2169.3 1905.0 2171.3 1905.8C2173.4 1906.7 2175.4 1908.5 2177.5 1909.4C2179.5 1910.3 2181.6 1910.9 2183.6 1911.4C2185.7 1911.9 2188.0 1912.3 2189.8 1912.4C2191.6 1912.5 2192.9 1911.7 2194.4 1912.0C2196.0 1912.4 2197.5 1914.1 2199.1 1914.7C2200.6 1915.3 2200.9 1915.5 2203.7 1915.6C2206.5 1915.7 2212.2 1915.4 2216.0 1915.3C2219.9 1915.2 2223.2 1915.0 2226.8 1915.1C2230.4 1915.1 2234.8 1915.0 2237.6 1915.6C2240.4 1916.2 2241.7 1917.7 2243.8 1918.6C2245.8 1919.6 2248.3 1921.1 2249.9 1921.3C2251.6 1921.5 2253.1 1920.6 2254.5 1919.9C2256.0 1919.3 2257.2 1918.0 2258.4 1917.3C2259.6 1916.6 2261.0 1915.9 2261.5 1915.6" stroke="#000000" stroke-width="11"/>
<path class="c" d="M160.8 2497.1C162.6 2497.0 167.7 2496.1 171.6 2496.3C175.4 2496.5 180.6 2498.4 183.9 2498.4C187.2 2498.4 188.0 2496.2 191.6 2496.3C195.2 2496.4 200.6 2498.7 205.5 2499.0C210.4 2499.3 215.8 2498.4 220.9 2498.2C226.0 2498.0 231.2 2498.2 236.3 2497.6C241.5 2497.1 248.0 2494.8 251.7 2495.0C255.4 2495.2 255.8 2498.5 259.4 2499.0C263.0 2499.4 269.3 2498.7 273.3 2497.6C277.3 2496.6 281.6 2492.9 283.2 2492.9C284.7 2492.9 288.3 2497.4 291.8 2498.2C295.3 2499.0 300.5 2497.8 304.1 2497.6C307.7 2497.5 311.2 2498.1 313.4 2497.1C315.6 2496.2 317.1 2491.9 319.5 2491.1C322.0 2490.3 328.3 2491.5 331.9 2491.1C335.5 2490.6 338.9 2489.9 341.1 2488.4C343.3 2487.0 344.2 2483.8 346.0 2481.8C347.8 2479.9 350.2 2477.9 351.9 2476.6C353.7 2475.2 356.2 2473.9 356.5 2473.9C356.9 2474.0 359.5 2476.7 361.2 2477.9C362.8 2479.1 366.4 2481.3 366.4 2481.3C366.4 2481.3 369.6 2476.3 371.6 2473.9C373.7 2471.6 377.0 2470.4 379.0 2467.3C380.9 2464.3 382.2 2461.0 383.4 2455.5C384.7 2450.0 385.5 2443.2 386.5 2434.4C387.5 2425.6 388.6 2413.3 389.6 2402.8C390.6 2392.3 391.7 2381.7 392.7 2371.2C393.7 2360.6 394.7 2350.1 395.6 2339.6C396.5 2329.0 397.2 2318.5 398.1 2307.9C398.9 2297.4 399.7 2285.1 400.7 2276.3C401.6 2267.5 402.3 2261.9 403.8 2255.3C405.2 2248.6 409.6 2236.3 409.6 2236.3C409.6 2236.3 413.5 2250.8 415.0 2257.9C416.6 2265.0 417.9 2271.5 419.1 2279.0C420.2 2286.4 421.0 2294.3 422.1 2302.7C423.3 2311.0 424.6 2320.2 425.8 2329.0C427.1 2337.8 428.2 2347.5 429.5 2355.4C430.8 2363.3 432.1 2369.4 433.5 2376.4C435.0 2383.5 436.6 2391.8 438.2 2397.5C439.7 2403.2 441.4 2405.9 442.8 2410.7C444.2 2415.5 445.2 2421.2 446.8 2426.5C448.4 2431.8 450.2 2438.1 452.4 2442.3C454.6 2446.5 457.7 2449.9 459.8 2451.5C461.9 2453.1 464.9 2453.1 466.0 2452.9C467.1 2452.6 470.6 2448.9 470.6 2448.9C470.6 2448.9 471.3 2451.8 472.3 2454.2C473.2 2456.6 474.5 2461.2 476.2 2463.4C477.9 2465.5 480.9 2465.6 482.8 2467.3C484.7 2469.1 485.8 2472.3 487.4 2473.9C489.1 2475.6 492.7 2477.1 492.8 2477.1C492.9 2477.1 496.4 2472.7 498.3 2471.3C500.3 2469.9 502.6 2470.4 504.6 2468.7C506.7 2466.9 509.2 2465.1 510.7 2460.8C512.3 2456.4 512.8 2449.8 513.8 2442.3C514.8 2434.9 515.9 2424.8 516.9 2416.0C517.9 2407.2 518.9 2397.5 520.0 2389.6C521.0 2381.7 521.8 2374.7 523.1 2368.5C524.3 2362.4 526.1 2357.2 527.6 2352.7C529.1 2348.3 532.2 2341.7 532.2 2341.7C532.2 2341.7 534.0 2346.1 535.3 2350.1C536.5 2354.1 538.4 2360.2 539.9 2365.9C541.4 2371.6 542.9 2379.1 544.5 2384.4C546.1 2389.6 547.7 2394.2 549.5 2397.5C551.3 2400.8 555.4 2404.1 555.4 2404.1C555.4 2404.1 559.2 2402.8 560.8 2400.2C562.4 2397.5 564.9 2388.3 564.9 2388.3C564.9 2388.3 567.9 2388.3 568.6 2389.6C569.3 2391.0 570.9 2397.5 572.3 2402.8C573.6 2408.1 575.3 2416.0 576.9 2421.2C578.4 2426.5 579.9 2430.5 581.5 2434.4C583.1 2438.4 584.8 2441.4 586.7 2445.0C588.6 2448.5 590.8 2451.5 592.6 2455.5C594.5 2459.4 595.8 2465.6 597.7 2468.7C599.7 2471.7 602.6 2472.0 604.5 2473.9C606.3 2475.9 607.1 2478.3 609.0 2480.5C610.8 2482.7 615.5 2487.1 615.5 2487.1C615.5 2487.1 618.8 2484.0 620.1 2483.2C621.4 2482.3 623.2 2481.8 623.2 2481.8C623.2 2481.8 625.5 2487.3 627.3 2489.7C629.1 2492.2 631.8 2494.8 634.0 2496.3C636.1 2497.9 639.0 2499.0 640.1 2499.0C641.2 2499.0 643.1 2497.6 644.8 2496.3C646.4 2495.0 650.0 2491.1 650.0 2491.1C650.0 2491.1 656.1 2497.6 656.2 2497.6C656.2 2497.7 660.2 2495.9 662.5 2493.7C664.9 2491.5 668.2 2490.0 670.1 2484.5C672.0 2479.0 672.7 2470.0 673.7 2460.8C674.7 2451.5 675.3 2440.1 676.1 2429.1C677.0 2418.2 677.8 2406.3 678.7 2394.9C679.7 2383.5 680.7 2370.4 681.8 2360.6C682.9 2350.9 685.5 2336.4 685.5 2336.4C685.5 2336.4 687.6 2351.3 688.6 2360.6C689.6 2369.9 690.4 2382.6 691.6 2392.3C692.7 2401.9 694.1 2411.6 695.3 2418.6C696.4 2425.6 697.2 2430.5 698.3 2434.4C699.5 2438.4 701.2 2438.8 702.3 2442.3C703.5 2445.8 704.4 2451.1 705.4 2455.5C706.5 2459.9 707.1 2464.9 708.5 2468.7C710.0 2472.4 712.2 2475.2 714.1 2477.9C716.0 2480.5 717.9 2482.1 720.0 2484.5C722.0 2486.8 725.8 2491.5 726.4 2491.8C727.1 2492.2 729.6 2490.3 731.7 2490.3C733.7 2490.3 737.4 2492.3 738.8 2491.8C740.2 2491.4 743.5 2488.1 745.8 2485.8C748.1 2483.5 750.6 2481.2 752.6 2477.9C754.7 2474.6 756.6 2471.1 758.0 2466.0C759.3 2461.0 760.0 2453.7 761.0 2447.6C762.1 2441.4 762.9 2435.7 764.1 2429.1C765.3 2422.6 766.8 2416.8 768.1 2408.1C769.4 2399.3 770.7 2386.5 771.8 2376.4C773.0 2366.3 773.8 2355.4 774.9 2347.5C776.0 2339.6 777.5 2335.6 778.6 2329.0C779.7 2322.4 780.5 2316.9 781.7 2307.9C782.9 2298.9 785.6 2275.0 785.6 2275.0C785.6 2275.0 788.6 2298.1 789.7 2307.9C790.8 2317.8 791.3 2325.5 792.0 2334.3C792.8 2343.1 793.5 2351.9 794.2 2360.6C794.9 2369.4 795.7 2379.1 796.5 2387.0C797.3 2394.9 798.0 2401.9 799.0 2408.1C799.9 2414.2 800.9 2417.7 801.9 2423.9C802.9 2430.0 803.9 2437.5 805.0 2445.0C806.1 2452.4 807.2 2462.3 808.7 2468.7C810.2 2475.0 811.7 2479.4 813.8 2483.2C815.8 2486.9 821.1 2491.1 821.1 2491.1C821.1 2491.1 825.9 2488.6 827.9 2485.8C830.0 2482.9 832.1 2479.4 833.5 2473.9C834.9 2468.4 835.6 2461.6 836.4 2452.9C837.3 2444.1 838.0 2432.2 838.7 2421.2C839.5 2410.3 840.2 2398.8 840.9 2387.0C841.6 2375.1 842.2 2362.4 842.8 2350.1C843.5 2337.8 844.1 2322.4 844.9 2313.2C845.6 2304.0 847.3 2294.8 847.3 2294.8C847.3 2294.8 847.1 2292.9 847.5 2296.9C848.0 2300.8 849.4 2309.6 850.3 2318.5C851.2 2327.4 852.0 2339.6 852.8 2350.1C853.6 2360.6 854.3 2372.1 855.1 2381.7C855.8 2391.4 856.7 2400.2 857.5 2408.1C858.3 2416.0 858.5 2424.3 859.9 2429.1C861.2 2434.0 865.8 2437.0 865.8 2437.0C865.8 2437.0 870.3 2434.4 872.1 2431.8C873.9 2429.1 875.1 2426.1 876.6 2421.2C878.2 2416.4 880.0 2408.9 881.3 2402.8C882.5 2396.6 883.1 2390.5 884.3 2384.4C885.6 2378.2 887.6 2371.2 889.0 2365.9C890.3 2360.6 891.5 2357.1 892.7 2352.7C893.8 2348.3 894.6 2342.9 896.1 2339.6C897.6 2336.3 899.5 2335.6 901.6 2333.0C903.7 2330.3 906.8 2327.5 908.7 2323.8C910.6 2320.0 911.8 2316.3 913.0 2310.6C914.2 2304.9 915.1 2296.1 916.1 2289.5C917.1 2282.9 917.7 2276.3 919.2 2271.1C920.7 2265.8 925.0 2257.9 925.0 2257.9C925.0 2257.9 929.7 2270.2 931.4 2276.3C933.1 2282.5 934.0 2288.6 935.1 2294.8C936.2 2300.9 937.0 2306.6 938.2 2313.2C939.3 2319.8 940.6 2327.3 941.9 2334.3C943.1 2341.3 944.4 2349.2 945.9 2355.4C947.3 2361.5 949.0 2366.3 950.5 2371.2C952.0 2376.0 953.6 2380.0 955.1 2384.4C956.7 2388.7 958.2 2393.1 959.7 2397.5C961.3 2401.9 962.5 2406.3 964.5 2410.7C966.5 2415.1 969.2 2420.8 971.6 2423.9C974.1 2426.9 978.9 2429.1 979.2 2429.1C979.5 2429.1 983.8 2427.4 985.7 2423.9C987.6 2420.4 989.2 2414.2 990.7 2408.1C992.1 2401.9 993.3 2394.9 994.4 2387.0C995.5 2379.1 996.4 2368.5 997.5 2360.6C998.5 2352.7 999.3 2345.8 1000.6 2339.6C1001.8 2333.3 1005.1 2323.2 1005.1 2323.2C1005.1 2323.2 1008.4 2337.7 1009.7 2344.8C1011.0 2351.9 1011.7 2358.4 1012.8 2365.9C1013.8 2373.4 1014.8 2381.7 1015.8 2389.6C1016.9 2397.5 1017.9 2406.3 1018.9 2413.3C1020.0 2420.4 1021.0 2426.1 1022.0 2431.8C1023.0 2437.5 1023.9 2442.8 1025.1 2447.6C1026.3 2452.4 1027.5 2457.0 1029.1 2460.8C1030.7 2464.5 1032.7 2467.3 1034.8 2470.0C1036.8 2472.6 1039.3 2474.8 1041.5 2476.6C1043.6 2478.3 1045.3 2479.7 1047.7 2480.5C1050.0 2481.3 1052.8 2481.5 1055.4 2481.3C1057.9 2481.1 1060.8 2480.4 1063.1 2479.2C1065.4 2478.0 1067.1 2475.5 1069.2 2473.9C1071.3 2472.4 1073.4 2472.2 1075.6 2470.0C1077.8 2467.8 1080.4 2463.6 1082.3 2460.8C1084.1 2457.9 1085.4 2454.5 1086.6 2452.9C1087.8 2451.2 1089.3 2450.7 1089.3 2450.7C1089.3 2450.7 1090.0 2453.8 1090.8 2456.8C1091.5 2459.8 1092.6 2465.1 1093.8 2468.7C1095.1 2472.2 1097.6 2477.4 1098.2 2477.9C1098.8 2478.4 1103.5 2478.3 1103.8 2477.9C1104.1 2477.5 1106.6 2472.4 1107.8 2466.0C1109.0 2459.7 1109.9 2448.5 1110.9 2439.7C1111.9 2430.9 1113.0 2421.7 1114.0 2413.3C1115.0 2405.0 1115.7 2396.7 1117.1 2389.6C1118.5 2382.5 1122.3 2370.7 1122.3 2370.7C1122.3 2370.7 1126.3 2386.9 1127.7 2394.9C1129.2 2402.9 1129.6 2411.1 1130.8 2418.6C1132.0 2426.1 1133.3 2434.4 1134.8 2439.7C1136.4 2445.0 1138.2 2447.7 1140.1 2450.2C1142.0 2452.8 1146.3 2455.0 1146.3 2455.0C1146.3 2455.0 1149.4 2452.0 1151.0 2449.3C1152.7 2446.6 1154.8 2444.0 1156.2 2438.8C1157.6 2433.5 1158.3 2425.6 1159.3 2417.7C1160.3 2409.8 1161.4 2400.6 1162.4 2391.3C1163.4 2382.1 1164.4 2372.0 1165.5 2362.4C1166.5 2352.7 1167.3 2343.5 1168.6 2333.4C1169.8 2323.3 1171.6 2311.9 1173.2 2301.8C1174.7 2291.7 1176.3 2282.4 1177.8 2272.8C1179.3 2263.1 1181.0 2253.0 1182.4 2243.8C1183.8 2234.6 1185.0 2226.2 1186.1 2217.5C1187.3 2208.7 1188.2 2199.9 1189.2 2191.1C1190.2 2182.3 1191.3 2172.7 1192.3 2164.8C1193.3 2156.9 1193.9 2149.5 1195.4 2143.7C1196.8 2137.9 1200.9 2130.0 1200.9 2130.0C1200.9 2130.0 1203.8 2141.8 1204.8 2149.0C1205.8 2156.1 1206.2 2164.3 1206.8 2172.7C1207.5 2181.0 1208.2 2191.1 1208.8 2199.0C1209.5 2206.9 1209.8 2215.3 1210.7 2220.1C1211.6 2224.9 1214.1 2228.0 1214.1 2228.0C1214.1 2228.0 1217.6 2226.2 1218.8 2222.7C1220.0 2219.2 1220.8 2213.9 1221.6 2206.9C1222.4 2199.9 1223.0 2190.2 1223.7 2180.6C1224.4 2170.9 1225.0 2159.1 1225.7 2149.0C1226.4 2138.9 1226.7 2129.9 1227.7 2120.0C1228.7 2110.1 1231.7 2089.7 1231.7 2089.7C1231.7 2089.7 1233.2 2110.1 1234.2 2120.0C1235.1 2129.9 1236.2 2139.7 1237.2 2149.0C1238.3 2158.2 1239.3 2167.0 1240.3 2175.3C1241.3 2183.6 1242.0 2190.7 1243.4 2199.0C1244.8 2207.4 1247.1 2217.5 1248.6 2225.4C1250.1 2233.3 1251.3 2240.3 1252.6 2246.4C1253.9 2252.6 1254.9 2257.0 1256.3 2262.2C1257.7 2267.5 1259.1 2273.2 1260.9 2278.1C1262.7 2282.9 1265.3 2286.4 1267.1 2291.2C1268.9 2296.1 1269.8 2301.8 1271.7 2307.0C1273.6 2312.3 1276.0 2318.5 1278.3 2322.8C1280.5 2327.2 1283.0 2330.8 1285.2 2333.4C1287.5 2336.0 1291.4 2338.6 1291.8 2338.7C1292.2 2338.7 1295.9 2335.4 1298.0 2334.7C1300.0 2334.0 1302.1 2335.4 1304.1 2334.7C1306.2 2334.0 1309.3 2333.4 1310.4 2330.8C1311.5 2328.1 1312.4 2318.9 1313.4 2312.3C1314.5 2305.7 1315.5 2300.0 1316.5 2291.2C1317.5 2282.4 1318.6 2270.6 1319.6 2259.6C1320.6 2248.6 1321.7 2237.7 1322.7 2225.4C1323.7 2213.1 1324.8 2201.2 1325.8 2185.8C1326.7 2170.5 1327.8 2149.8 1328.5 2133.1C1329.3 2116.5 1329.8 2099.8 1330.5 2085.7C1331.2 2071.7 1331.8 2058.9 1332.6 2048.8C1333.3 2038.7 1334.1 2032.2 1335.0 2025.1C1335.9 2018.1 1336.9 2012.0 1338.1 2006.7C1339.3 2001.4 1340.3 2000.3 1342.1 1993.5C1343.9 1986.7 1348.8 1965.8 1348.8 1965.8C1348.8 1965.8 1352.1 1982.3 1353.4 1990.9C1354.7 1999.4 1355.4 2007.6 1356.5 2017.2C1357.5 2026.9 1358.5 2038.3 1359.6 2048.8C1360.6 2059.4 1361.4 2068.6 1362.6 2080.5C1363.9 2092.3 1365.7 2107.7 1367.3 2120.0C1368.8 2132.3 1370.3 2144.1 1371.9 2154.2C1373.4 2164.3 1375.0 2172.7 1376.5 2180.6C1378.1 2188.5 1379.6 2195.1 1381.1 2201.7C1382.7 2208.2 1384.0 2212.6 1385.8 2220.1C1387.6 2227.6 1389.9 2238.5 1391.9 2246.4C1394.0 2254.3 1396.0 2260.9 1398.1 2267.5C1400.1 2274.1 1402.2 2279.8 1404.3 2286.0C1406.3 2292.1 1408.3 2299.1 1410.4 2304.4C1412.5 2309.7 1414.9 2313.2 1417.0 2317.6C1419.1 2322.0 1421.3 2326.8 1423.1 2330.8C1424.8 2334.7 1425.9 2337.8 1427.5 2341.3C1429.0 2344.8 1431.3 2350.5 1432.3 2351.8C1433.4 2353.2 1437.0 2353.1 1437.0 2353.1C1437.0 2353.1 1440.2 2349.0 1441.2 2343.9C1442.3 2338.9 1442.5 2328.6 1443.5 2322.8C1444.6 2317.1 1447.5 2309.7 1447.5 2309.7C1447.5 2309.7 1450.5 2324.6 1452.0 2330.8C1453.6 2336.9 1454.8 2341.7 1456.7 2346.6C1458.6 2351.4 1461.2 2355.8 1463.4 2359.7C1465.6 2363.7 1467.8 2367.2 1470.0 2370.3C1472.2 2373.3 1474.2 2375.8 1476.6 2378.2C1479.0 2380.6 1481.9 2383.0 1484.5 2384.8C1487.1 2386.5 1490.1 2387.8 1492.2 2388.7C1494.2 2389.6 1495.1 2388.6 1496.8 2390.0C1498.4 2391.5 1500.6 2395.5 1502.7 2397.9C1504.7 2400.4 1506.8 2402.5 1509.1 2404.5C1511.5 2406.5 1514.0 2408.0 1516.8 2409.8C1519.7 2411.5 1523.0 2413.3 1526.1 2415.1C1529.2 2416.8 1532.2 2418.6 1535.3 2420.3C1538.4 2422.1 1541.5 2424.1 1544.6 2425.6C1547.7 2427.1 1550.7 2428.1 1553.8 2429.6C1556.9 2431.0 1560.0 2432.6 1563.1 2434.0C1566.2 2435.5 1569.2 2436.8 1572.3 2438.2C1575.4 2439.7 1578.5 2441.1 1581.6 2442.7C1584.6 2444.4 1588.2 2446.7 1590.8 2448.0C1593.4 2449.3 1596.0 2450.7 1597.0 2450.6C1597.9 2450.5 1600.6 2450.0 1602.6 2446.7C1604.5 2443.4 1608.7 2430.9 1608.7 2430.9C1608.7 2430.9 1612.0 2445.1 1613.9 2449.3C1615.7 2453.5 1617.8 2453.9 1619.9 2455.9C1621.9 2457.9 1623.9 2459.7 1626.3 2461.2C1628.6 2462.6 1632.5 2464.6 1634.0 2464.6C1635.4 2464.6 1638.8 2462.8 1640.4 2461.2C1642.1 2459.5 1643.0 2457.2 1643.9 2454.6C1644.8 2451.9 1645.3 2451.3 1646.1 2445.4C1646.8 2439.4 1647.7 2427.7 1648.4 2418.8C1649.1 2409.8 1649.8 2400.8 1650.5 2391.9C1651.2 2382.9 1651.9 2372.9 1652.8 2364.9C1653.7 2357.0 1656.0 2344.1 1656.0 2344.1C1656.0 2344.1 1656.3 2347.4 1657.0 2351.5C1657.7 2355.6 1659.0 2362.2 1660.1 2368.6C1661.2 2375.0 1662.4 2382.7 1663.8 2389.7C1665.2 2396.7 1666.9 2404.6 1668.4 2410.8C1670.0 2416.9 1671.1 2421.7 1673.1 2426.6C1675.0 2431.4 1677.5 2435.8 1680.0 2439.7C1682.6 2443.7 1685.6 2447.4 1688.3 2450.3C1691.0 2453.1 1693.6 2454.8 1696.2 2456.9C1698.8 2459.0 1701.6 2461.8 1703.9 2462.9C1706.3 2464.0 1708.6 2464.1 1710.1 2463.5C1711.7 2462.9 1715.1 2461.5 1716.2 2458.2C1717.3 2454.9 1717.7 2448.5 1718.3 2439.7C1719.0 2431.0 1719.5 2417.3 1720.2 2405.5C1720.8 2393.6 1721.3 2381.4 1722.0 2368.6C1722.7 2355.8 1724.6 2328.6 1724.6 2328.6C1724.6 2328.6 1727.0 2356.7 1727.8 2368.6C1728.6 2380.6 1729.0 2390.6 1729.7 2400.2C1730.3 2409.9 1730.9 2419.1 1731.8 2426.6C1732.6 2434.0 1733.5 2440.0 1734.7 2445.0C1735.9 2450.1 1737.3 2454.0 1739.1 2456.9C1740.9 2459.7 1743.5 2460.6 1745.6 2462.1C1747.7 2463.7 1751.7 2466.1 1751.7 2466.1C1751.7 2466.1 1755.4 2458.8 1756.8 2456.9C1758.3 2454.9 1760.4 2454.2 1760.4 2454.2C1760.4 2454.2 1762.1 2457.5 1763.5 2459.5C1764.9 2461.5 1766.5 2464.3 1768.7 2466.1C1770.8 2467.8 1773.6 2468.8 1776.4 2470.0C1779.2 2471.3 1782.6 2472.9 1785.6 2473.5C1788.7 2474.0 1792.1 2473.8 1794.9 2473.5C1797.7 2473.1 1800.1 2472.8 1802.6 2471.4C1805.1 2469.9 1807.7 2467.8 1809.7 2464.8C1811.6 2461.7 1813.1 2459.3 1814.4 2452.9C1815.7 2446.6 1816.2 2436.3 1817.4 2426.6C1818.7 2416.8 1822.0 2394.4 1822.0 2394.4C1822.0 2394.4 1825.2 2409.8 1826.6 2416.0C1828.0 2422.3 1828.6 2427.9 1830.3 2431.8C1831.9 2435.8 1835.4 2438.9 1836.5 2439.7C1837.6 2440.6 1839.7 2440.7 1841.1 2439.7C1842.5 2438.8 1846.0 2435.8 1848.3 2431.8C1850.6 2427.9 1853.2 2421.7 1855.1 2416.0C1857.0 2410.3 1858.4 2404.6 1859.7 2397.6C1861.0 2390.6 1861.7 2384.0 1862.8 2373.9C1863.8 2363.8 1864.8 2350.2 1865.8 2337.0C1866.9 2323.8 1867.9 2309.8 1868.9 2294.8C1870.0 2279.9 1871.0 2261.9 1872.0 2247.4C1873.0 2232.9 1874.1 2217.1 1875.1 2207.9C1876.1 2198.7 1877.6 2194.9 1878.2 2192.1C1878.7 2189.2 1878.5 2190.8 1878.5 2190.8C1878.5 2190.8 1880.2 2196.7 1881.1 2205.3C1882.1 2213.8 1883.2 2229.0 1884.2 2242.1C1885.2 2255.3 1886.3 2270.2 1887.3 2284.3C1888.3 2298.3 1889.4 2313.3 1890.4 2326.5C1891.4 2339.6 1892.3 2351.9 1893.5 2363.3C1894.6 2374.8 1896.2 2385.3 1897.5 2395.0C1898.8 2404.6 1899.8 2413.8 1901.2 2421.3C1902.6 2428.8 1904.2 2434.0 1905.8 2439.7C1907.4 2445.5 1908.8 2451.8 1910.8 2455.6C1912.7 2459.3 1917.6 2462.1 1917.6 2462.1C1917.6 2462.1 1921.3 2459.3 1922.7 2456.9C1924.1 2454.5 1925.9 2447.6 1925.9 2447.6C1925.9 2447.6 1928.6 2449.4 1930.0 2451.6C1931.4 2453.8 1932.5 2457.7 1934.3 2460.8C1936.2 2463.9 1938.7 2467.6 1941.1 2470.0C1943.6 2472.5 1946.4 2473.3 1949.0 2475.3C1951.6 2477.3 1954.2 2479.8 1956.7 2481.9C1959.3 2484.0 1961.9 2486.4 1964.4 2487.7C1967.0 2489.0 1969.5 2489.9 1972.1 2489.8C1974.7 2489.7 1977.6 2489.2 1980.0 2487.2C1982.3 2485.1 1985.2 2482.3 1987.0 2476.6C1988.8 2470.9 1989.6 2463.5 1990.7 2452.9C1991.8 2442.4 1992.8 2428.8 1993.6 2413.4C1994.5 2398.0 1995.2 2378.3 1995.9 2360.7C1996.7 2343.1 1997.3 2325.6 1998.1 2308.0C1998.8 2290.4 1999.3 2272.9 2000.4 2255.3C2001.6 2237.7 2005.0 2202.6 2005.0 2202.6C2005.0 2202.6 2008.0 2213.2 2009.2 2221.1C2010.4 2229.0 2011.1 2240.4 2012.1 2250.0C2013.2 2259.7 2013.9 2272.7 2015.2 2279.0C2016.5 2285.4 2019.9 2288.2 2019.9 2288.2C2019.9 2288.2 2024.2 2288.0 2025.2 2284.3C2026.2 2280.6 2027.3 2267.6 2028.2 2257.9C2029.1 2248.3 2029.8 2235.0 2030.8 2226.3C2031.7 2217.6 2033.3 2209.4 2033.8 2205.8C2034.4 2202.2 2034.0 2204.7 2034.0 2204.7C2034.0 2204.7 2035.8 2213.5 2036.8 2221.1C2037.8 2228.6 2038.8 2239.9 2039.9 2250.0C2041.0 2260.1 2042.3 2272.0 2043.6 2281.7C2044.9 2291.3 2046.2 2300.1 2047.6 2308.0C2049.0 2315.9 2050.4 2322.1 2052.2 2329.1C2054.0 2336.1 2056.3 2343.6 2058.4 2350.2C2060.4 2356.8 2062.2 2362.5 2064.6 2368.6C2066.9 2374.8 2070.0 2381.3 2072.6 2387.0C2075.2 2392.8 2078.2 2398.3 2080.1 2402.9C2081.9 2407.4 2082.1 2411.2 2083.5 2414.4C2085.0 2417.6 2087.2 2419.9 2089.0 2422.3C2090.7 2424.7 2092.1 2426.8 2093.9 2428.9C2095.6 2431.0 2097.7 2433.0 2099.4 2434.8C2101.1 2436.7 2102.5 2438.5 2104.1 2440.1C2105.7 2441.7 2107.4 2443.7 2108.9 2444.4C2110.4 2445.1 2112.7 2444.3 2114.3 2444.7C2115.8 2445.1 2116.7 2446.2 2118.1 2446.7C2119.6 2447.1 2121.1 2447.5 2122.8 2447.3C2124.4 2447.2 2126.5 2446.5 2128.2 2445.8C2129.8 2445.0 2131.2 2444.1 2132.8 2442.7C2134.4 2441.3 2136.1 2439.3 2137.7 2437.5C2139.4 2435.6 2141.4 2433.8 2142.9 2431.5C2144.4 2429.2 2145.6 2426.3 2146.7 2423.6C2147.8 2421.0 2148.6 2418.1 2149.6 2415.7C2150.6 2413.3 2151.7 2411.5 2152.7 2409.1C2153.7 2406.7 2154.9 2403.6 2155.7 2401.2C2156.6 2398.8 2157.4 2396.4 2158.0 2394.6C2158.6 2392.9 2158.6 2391.6 2159.2 2390.7C2159.8 2389.8 2161.1 2389.1 2162.1 2388.7C2163.1 2388.3 2164.1 2388.4 2165.1 2388.1C2166.2 2387.7 2167.2 2387.5 2168.2 2386.7C2169.2 2386.0 2170.3 2384.6 2171.2 2383.4C2172.1 2382.2 2172.9 2380.7 2173.5 2379.5C2174.2 2378.3 2174.5 2376.9 2175.2 2376.2C2175.9 2375.5 2177.1 2375.1 2178.2 2374.9C2179.4 2374.7 2181.0 2374.8 2182.1 2375.1C2183.2 2375.5 2184.2 2375.9 2185.1 2376.9C2186.1 2377.8 2186.9 2379.4 2187.8 2380.8C2188.7 2382.2 2189.6 2383.7 2190.6 2385.4C2191.5 2387.2 2192.5 2389.4 2193.6 2391.3C2194.8 2393.3 2196.4 2395.4 2197.6 2397.3C2198.7 2399.1 2199.5 2400.7 2200.7 2402.5C2201.8 2404.4 2203.3 2406.5 2204.6 2408.5C2205.8 2410.4 2207.2 2412.3 2208.2 2414.4C2209.2 2416.5 2209.8 2418.6 2210.8 2421.0C2211.7 2423.4 2212.7 2426.5 2213.6 2428.9C2214.5 2431.3 2215.4 2433.3 2216.2 2435.5C2217.0 2437.7 2217.7 2439.9 2218.5 2442.1C2219.3 2444.3 2219.9 2446.9 2220.8 2448.6C2221.8 2450.4 2223.1 2451.6 2224.3 2452.6C2225.4 2453.6 2226.4 2454.2 2227.6 2454.6C2228.8 2454.9 2230.4 2454.3 2231.4 2454.6C2232.5 2454.9 2233.4 2455.4 2234.0 2456.6C2234.7 2457.7 2234.8 2460.1 2235.5 2461.8C2236.2 2463.6 2237.1 2465.6 2238.1 2467.1C2239.0 2468.6 2240.3 2470.2 2241.3 2471.0C2242.4 2471.9 2244.1 2472.5 2244.5 2472.4C2245.0 2472.3 2246.9 2471.0 2247.8 2469.7C2248.6 2468.4 2249.1 2466.2 2249.8 2464.5C2250.4 2462.7 2251.2 2460.7 2251.8 2459.2C2252.3 2457.7 2252.7 2455.6 2253.0 2455.2C2253.3 2454.9 2254.9 2454.6 2256.1 2454.6C2257.2 2454.6 2259.3 2455.1 2259.9 2455.2" stroke="#000099" stroke-width="10.6"/>
</g>
<g stroke="#000" stroke-width="9.2" stroke-linecap="butt">
<path d="M661.5 356.0L681.1 425.5"/>
<path d="M762.5 360.8L746.6 432.2"/>
<path d="M1158.3 2381.0L1191.2 2465.4"/>
<path d="M2079.1 2508.9L2053.2 2560.7"/>
</g>
<text font-size="100" transform="matrix(0 -0.8930 0.7897 0 547.9 529.1)">1618</text>
<text font-size="100" transform="matrix(0 -0.8930 0.7897 0 672.9 333.6)">1518</text>
<text font-size="100" transform="matrix(0 -0.8930 0.7897 0 789.8 349.8)">1481</text>
<text font-size="100" transform="matrix(0 -0.8930 0.7897 0 886.4 532.9)">1317</text>
<text font-size="100" transform="matrix(0 -0.8930 0.7897 0 1231.1 313.0)">1190</text>
<text font-size="100" transform="matrix(0 -0.8930 0.7897 0 1534.8 268.8)">999</text>
<text font-size="100" transform="matrix(0 -0.8930 0.7897 0 1911.5 494.3)">764</text>
<text font-size="100" transform="matrix(0 -0.8930 0.7897 0 2011.9 429.0)">700</text>
<text font-size="100" transform="matrix(0 -0.8930 0.7897 0 564.8 1204.0)">1608</text>
<text font-size="100" transform="matrix(0 -0.8930 0.7897 0 677.7 1295.7)">1541</text>
<text font-size="100" transform="matrix(0 -0.8930 0.7897 0 862.6 1273.7)">1423</text>
<text font-size="100" transform="matrix(0 -0.8930 0.7897 0 1045.5 1083.4)">1309</text>
<text font-size="100" transform="matrix(0 -0.8930 0.7897 0 1499.5 1113.6)">1022</text>
<text font-size="100" transform="matrix(0 -0.8930 0.7897 0 1746.3 1203.8)">864</text>
<text font-size="100" transform="matrix(0 -0.8930 0.7897 0 1956.7 1142.7)">731</text>
<text font-size="100" transform="matrix(0 -0.8930 0.7897 0 2233.9 1226.1)">555</text>
<text font-size="100" transform="matrix(0 -0.8930 0.7897 0 431.8 1906.9)">1699</text>
<text font-size="100" transform="matrix(0 -0.8930 0.7897 0 573.4 1907.3)">1606</text>
<text font-size="100" transform="matrix(0 -0.8930 0.7897 0 829.6 2033.5)">1444</text>
<text font-size="100" transform="matrix(0 -0.8930 0.7897 0 1046.1 1781.4)">1308</text>
<text font-size="100" transform="matrix(0 -0.8930 0.7897 0 1245.3 1671.7)">1178</text>
<text font-size="100" transform="matrix(0 -0.8930 0.7897 0 1404.8 1904.6)">1082</text>
<text font-size="100" transform="matrix(0 -0.8930 0.7897 0 1508.6 1740.7)">1014</text>
<text font-size="100" transform="matrix(0 -0.8930 0.7897 0 1742.1 2057.0)">870</text>
<text font-size="100" transform="matrix(0 -0.8930 0.7897 0 1924.0 1969.9)">754</text>
<text font-size="100" transform="matrix(0 -0.8930 0.7897 0 429.1 2591.6)">1693</text>
<text font-size="100" transform="matrix(0 -0.8930 0.7897 0 558.0 2713.0)">1616</text>
<text font-size="100" transform="matrix(0 -0.8930 0.7897 0 710.5 2709.9)">1520</text>
<text font-size="100" transform="matrix(0 -0.8930 0.7897 0 812.9 2629.3)">1456</text>
<text font-size="100" transform="matrix(0 -0.8930 0.7897 0 1041.8 2700.9)">1317</text>
<text font-size="100" transform="matrix(0 -0.8930 0.7897 0 1162.1 2356.9)">1194</text>
<text font-size="100" transform="matrix(0 -0.8930 0.7897 0 1272.9 2406.9)">1175</text>
<text font-size="100" transform="matrix(0 -0.8930 0.7897 0 1377.6 2283.5)">1101</text>
<text font-size="100" transform="matrix(0 -0.8930 0.7897 0 1747.6 2697.6)">908</text>
<text font-size="100" transform="matrix(0 -0.8930 0.7897 0 1903.0 2529.8)">768</text>
<text font-size="100" transform="matrix(0 -0.8930 0.7897 0 2023.9 2529.7)">687</text>
<text font-size="100" transform="matrix(0 -0.8930 0.7897 0 2118.3 2492.7)">669</text>
<text font-size="100" transform="matrix(0.8741 0 0 1.0147 153.3 3145.4)">1800</text>
<text font-size="100" transform="matrix(0.8741 0 0 1.0147 628.8 3145.4)">1500</text>
<text font-size="100" transform="matrix(0.8741 0 0 1.0147 1105.8 3145.8)">1200</text>
<text font-size="100" transform="matrix(0.8741 0 0 1.0147 1600.5 3145.6)">900</text>
<text font-size="100" transform="matrix(0.8741 0 0 1.0147 2076.3 3145.6)">600</text>
<text class="i" font-size="100" transform="matrix(0.9034 0 0 1.0783 191.2 820.7)">(a)</text>
<text class="i" font-size="100" transform="matrix(0.9034 0 0 1.0783 191.5 1478.0)">(b)</text>
<text class="i" font-size="100" transform="matrix(0.9034 0 0 1.0783 190.5 2192.9)">(c)</text>
<text class="i" font-size="100" transform="matrix(0.9034 0 0 1.0783 191.5 2871.4)">(d)</text>
<text class="k" font-size="100" transform="matrix(0 -1.0900 0.9900 0 114.3 1796.6)">Absorption</text>
<text class="k" font-size="100" transform="matrix(0.8438 0 0 0.9700 886.8 3265.1)">Wavenumber /cm</text>
<text font-size="100" transform="matrix(0.4500 0 0 0.5800 1484.0 3212.9)">−1</text>
</svg></body></html>
